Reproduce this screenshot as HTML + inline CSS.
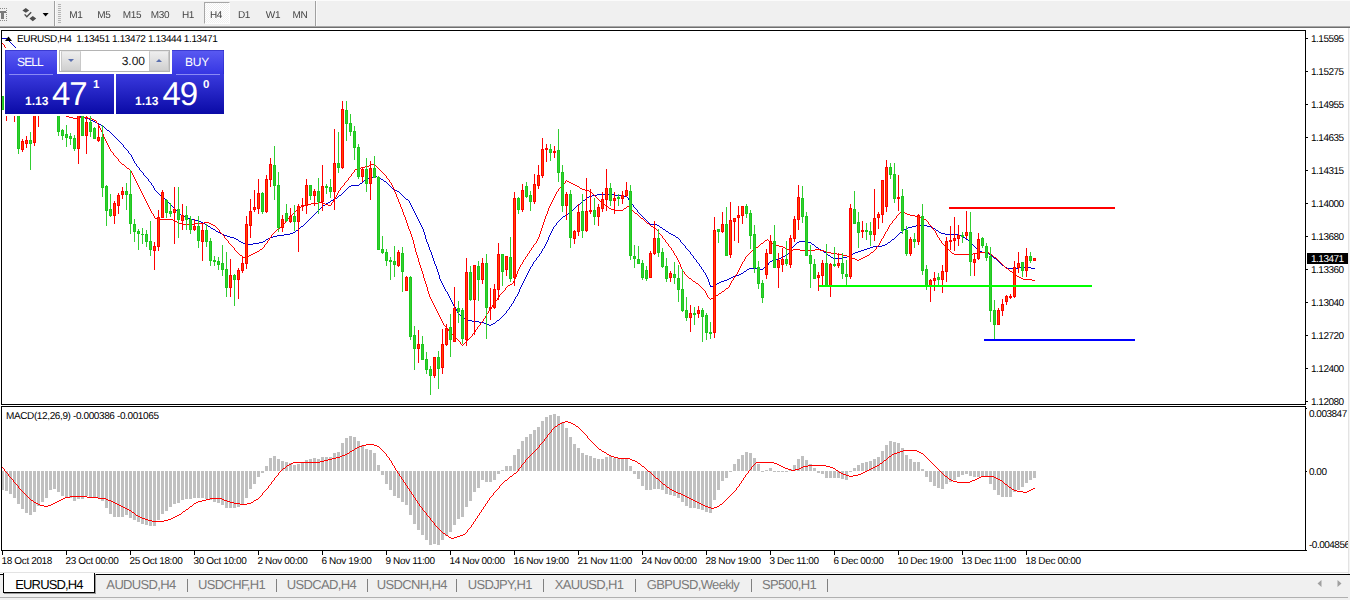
<!DOCTYPE html>
<html><head><meta charset="utf-8"><title>EURUSD,H4</title>
<style>
html,body{margin:0;padding:0}
body{width:1350px;height:600px;position:relative;overflow:hidden;background:#fff;font-family:"Liberation Sans",sans-serif;color:#000;text-rendering:geometricPrecision}
div,span,i{box-sizing:border-box}
.tb{position:absolute;left:0;top:0;width:1350px;height:28px;background:#f0f0f0;border-top:1px solid #fbfbfb;border-bottom:1px solid #6e6e6e}
.tb:after{content:"";position:absolute;left:0;bottom:0;width:1350px;height:1px;background:#a8a8a8}
.tbi{position:absolute;left:0;top:-1px}
.tf{will-change:transform;position:absolute;top:9px;width:30px;text-align:center;font-size:10px;line-height:12px;color:#444;letter-spacing:-0.3px}
.h4b{position:absolute;left:204px;top:1px;width:26px;height:22px;background:#f8f8f8 repeating-conic-gradient(#ffffff 0 25%,#f0f0f0 0 50%) 0 0/2px 2px;border:1px solid #a6a6a6;border-right-color:#fdfdfd;border-bottom-color:#fdfdfd}
.sep{position:absolute;top:0;width:1px;height:26px;background:#a0a0a0}
.sep.w{background:#fafafa}
.redge{position:absolute;left:1348px;top:28px;width:1px;height:546px;background:#e3e3e3;z-index:5}
.redge2{position:absolute;left:1349px;top:28px;width:1px;height:546px;background:#f4f4f4;z-index:5}
.chart{position:absolute;left:0;top:0}
.ax{position:absolute;font-size:10px;line-height:12px;letter-spacing:-0.5px;white-space:nowrap;color:#000}
.curb{position:absolute;left:1307px;top:253px;width:41px;height:11px;background:#000}
.ax.tm{letter-spacing:-0.36px}
.ax.hd{letter-spacing:-0.38px}
.pn{position:absolute;left:5px;top:50px;width:219px;height:64px}
.pnbg{position:absolute;left:4px;top:48px;width:222px;height:68px;background:#fff}
.sell,.buy{position:absolute;top:0;height:25px;width:52px;background:linear-gradient(#5a5af2,#3434e2);color:#fff;font-size:12px;line-height:24px;text-align:center;letter-spacing:-0.9px}
.sell{left:0;padding-right:2px;box-shadow:inset 1px 1px 0 rgba(20,20,170,0.45)}
.buy{left:167px;letter-spacing:-0.3px;padding-right:2px;box-shadow:inset 0 1px 0 rgba(20,20,170,0.45),inset -1px 0 0 rgba(20,20,170,0.3)}
.sl{position:absolute;top:24px;height:1px;background:#8a8af4;z-index:3}
.spin{position:absolute;left:54px;top:0;width:111px;height:22px;border:1px solid #b4b4b4;background:#fff}
.sb{position:absolute;left:1px;top:0;width:20px;height:20px;background:linear-gradient(#eeeeee,#d0d0d0);border:1px solid #c8c8c8;border-top-color:#e4e4e4}
.sb.r{left:auto;right:0}
.sv{position:absolute;right:24px;top:0;font-size:12px;line-height:20px;color:#111}
i.dn,i.up{position:absolute;left:6px;top:7px;width:0;height:0;border-left:3px solid transparent;border-right:3px solid transparent}
i.dn{border-top:3px solid #5a6fae}
i.up{border-bottom:3px solid #5a6fae}
.pr{position:absolute;top:24px;height:40px;background:linear-gradient(#3a3ade,#0a0aa6);color:#fff}
.pr span{position:absolute;white-space:nowrap}
.sm{font-size:12px;font-weight:bold;top:21px;line-height:12px;letter-spacing:0}
.bg{font-size:33px;top:2.5px;line-height:33px;letter-spacing:-1px}
.sp{font-size:11.5px;font-weight:bold;top:5.5px;line-height:11px}
.tabs{position:absolute;left:0;top:572px;width:1350px;height:28px;background:#f0f0f0;border-top:1px solid #e3e3e3}
.tabs:before{content:"";position:absolute;left:0;top:0;width:1350px;height:1px;background:#fff}
.tabs:after{content:"";position:absolute;left:0;top:1px;width:1350px;height:1px;background:#000}
.tab{position:absolute;top:2px;height:19px;font-size:13px;line-height:20px;text-align:center;color:#7a7a7a;letter-spacing:-0.65px;white-space:nowrap}
.tab.act{letter-spacing:-0.85px;left:3px;top:0;width:92px;height:20px;background:#fff;color:#000;border:1px solid #000;border-top:none;z-index:2;line-height:24px;box-shadow:1px 1px 0 #9a9a9a}
.tsep{position:absolute;top:6px;width:1px;height:13px;background:#808080}
.arr{position:absolute;left:1317px;top:7px}
.bl{position:absolute;left:0;top:24px;width:1348px;height:1px;background:#b0b0b0;z-index:3}
</style></head>
<body>
<div class="redge"></div><div class="redge2"></div>
<svg class="chart" width="1350" height="600" viewBox="0 0 1350 600" shape-rendering="crispEdges">
<g>
<path fill="#0000cd" d="M2 38h5v1h-5zM7 39h1v1h-1zM8 40h1v1h-1zM9 41h1v1h-1zM10 42h1v1h-1zM11 43h1v1h-1zM12 44h1v1h-1zM13 45h1v1h-1zM14 46h1v1h-1zM15 47h1v1h-1zM16 48h1v1h-1zM17 49h1v1h-1zM18 50h1v1h-1zM19 51h1v1h-1zM20 52h1v1h-1zM21 53h1v1h-1zM22 54h1v1h-1zM23 55h1v1h-1zM24 56h1v1h-1zM25 57h1v1h-1zM26 58h1v1h-1zM27 59h1v1h-1zM28 60h1v1h-1zM29 61h1v1h-1zM30 62h1v1h-1zM31 63h1v1h-1zM32 64h1v1h-1zM33 65h1v1h-1zM34 66h1v1h-1zM35 67h1v1h-1zM35 68h1v1h-1zM36 69h1v1h-1zM37 70h1v1h-1zM38 71h1v1h-1zM39 72h1v1h-1zM40 73h1v1h-1zM41 74h1v1h-1zM42 75h1v1h-1zM43 76h1v1h-1zM44 77h1v1h-1zM45 78h1v1h-1zM45 79h1v1h-1zM46 80h1v1h-1zM47 81h1v1h-1zM48 82h1v1h-1zM49 83h1v1h-1zM50 84h1v1h-1zM51 85h1v1h-1zM52 86h1v1h-1zM53 87h1v1h-1zM53 88h1v1h-1zM54 89h1v1h-1zM55 90h1v1h-1zM56 91h1v1h-1zM57 92h1v1h-1zM58 93h1v1h-1zM58 94h1v1h-1zM59 95h1v1h-1zM60 96h1v1h-1zM61 97h1v1h-1zM62 98h1v1h-1zM63 99h1v1h-1zM63 100h1v1h-1zM64 101h1v1h-1zM65 102h1v1h-1zM66 103h1v1h-1zM67 104h1v1h-1zM68 105h1v1h-1zM69 106h1v1h-1zM70 107h1v1h-1zM71 108h1v1h-1zM72 109h2v1h-2zM74 110h1v1h-1zM75 111h1v1h-1zM76 112h1v1h-1zM77 113h1v1h-1zM78 114h1v1h-1zM79 115h1v1h-1zM80 116h2v1h-2zM82 117h3v1h-3zM85 118h4v1h-4zM89 119h2v1h-2zM91 120h2v1h-2zM93 121h2v1h-2zM95 122h2v1h-2zM97 123h2v1h-2zM99 124h2v1h-2zM101 125h1v1h-1zM102 126h2v1h-2zM104 127h1v1h-1zM105 128h1v1h-1zM106 129h1v1h-1zM107 130h2v1h-2zM109 131h1v1h-1zM110 132h1v1h-1zM111 133h1v1h-1zM112 134h1v1h-1zM113 135h1v1h-1zM114 136h1v1h-1zM115 137h1v1h-1zM116 138h1v1h-1zM117 139h1v1h-1zM118 140h1v1h-1zM119 141h1v1h-1zM120 142h1v1h-1zM121 143h1v1h-1zM122 144h1v1h-1zM123 145h1v1h-1zM123 146h1v1h-1zM124 147h1v1h-1zM125 148h1v1h-1zM126 149h1v1h-1zM127 150h1v1h-1zM128 151h1v1h-1zM128 152h1v1h-1zM129 153h1v1h-1zM130 154h1v1h-1zM131 155h1v1h-1zM131 156h1v1h-1zM132 157h1v1h-1zM132 158h1v1h-1zM133 159h1v1h-1zM133 160h1v1h-1zM134 161h1v1h-1zM134 162h1v1h-1zM135 163h1v1h-1zM136 164h1v1h-1zM136 165h1v1h-1zM137 166h1v1h-1zM138 167h1v1h-1zM139 168h1v1h-1zM139 169h1v1h-1zM140 170h1v1h-1zM141 171h1v1h-1zM142 172h1v1h-1zM143 173h1v1h-1zM143 174h1v1h-1zM144 175h1v1h-1zM145 176h1v1h-1zM375 176h2v1h-2zM146 177h1v1h-1zM372 177h3v1h-3zM377 177h2v1h-2zM147 178h1v1h-1zM368 178h4v1h-4zM379 178h2v1h-2zM148 179h1v1h-1zM366 179h2v1h-2zM381 179h2v1h-2zM148 180h1v1h-1zM364 180h2v1h-2zM383 180h1v1h-1zM149 181h1v1h-1zM363 181h1v1h-1zM384 181h2v1h-2zM150 182h1v1h-1zM362 182h1v1h-1zM386 182h1v1h-1zM151 183h1v1h-1zM360 183h2v1h-2zM387 183h1v1h-1zM151 184h1v1h-1zM359 184h1v1h-1zM388 184h1v1h-1zM152 185h1v1h-1zM351 185h8v1h-8zM389 185h1v1h-1zM153 186h1v1h-1zM349 186h2v1h-2zM390 186h1v1h-1zM153 187h1v1h-1zM348 187h1v1h-1zM391 187h1v1h-1zM154 188h1v1h-1zM347 188h1v1h-1zM392 188h1v1h-1zM154 189h1v1h-1zM346 189h1v1h-1zM393 189h2v1h-2zM155 190h1v1h-1zM345 190h1v1h-1zM395 190h2v1h-2zM156 191h1v1h-1zM344 191h1v1h-1zM397 191h2v1h-2zM157 192h1v1h-1zM343 192h1v1h-1zM399 192h1v1h-1zM158 193h1v1h-1zM342 193h1v1h-1zM400 193h1v1h-1zM159 194h1v1h-1zM341 194h1v1h-1zM401 194h1v1h-1zM597 194h18v1h-18zM160 195h2v1h-2zM339 195h2v1h-2zM402 195h1v1h-1zM592 195h5v1h-5zM615 195h8v1h-8zM162 196h1v1h-1zM338 196h1v1h-1zM403 196h1v1h-1zM589 196h3v1h-3zM623 196h4v1h-4zM163 197h1v1h-1zM337 197h1v1h-1zM404 197h1v1h-1zM587 197h2v1h-2zM627 197h1v1h-1zM164 198h1v1h-1zM335 198h2v1h-2zM405 198h1v1h-1zM586 198h1v1h-1zM628 198h1v1h-1zM165 199h1v1h-1zM333 199h2v1h-2zM406 199h2v1h-2zM585 199h1v1h-1zM628 199h1v1h-1zM166 200h1v1h-1zM331 200h2v1h-2zM408 200h1v1h-1zM583 200h2v1h-2zM629 200h1v1h-1zM167 201h1v1h-1zM330 201h1v1h-1zM409 201h1v1h-1zM582 201h1v1h-1zM630 201h1v1h-1zM168 202h1v1h-1zM328 202h2v1h-2zM409 202h1v1h-1zM581 202h1v1h-1zM631 202h1v1h-1zM169 203h1v1h-1zM326 203h2v1h-2zM410 203h1v1h-1zM580 203h1v1h-1zM631 203h1v1h-1zM170 204h1v1h-1zM325 204h1v1h-1zM410 204h1v1h-1zM579 204h1v1h-1zM632 204h1v1h-1zM171 205h1v1h-1zM323 205h2v1h-2zM411 205h1v1h-1zM577 205h2v1h-2zM633 205h1v1h-1zM172 206h1v1h-1zM322 206h1v1h-1zM411 206h1v1h-1zM576 206h1v1h-1zM633 206h1v1h-1zM173 207h1v1h-1zM321 207h1v1h-1zM412 207h1v1h-1zM575 207h1v1h-1zM634 207h1v1h-1zM174 208h1v1h-1zM320 208h1v1h-1zM412 208h1v1h-1zM574 208h1v1h-1zM635 208h1v1h-1zM175 209h1v1h-1zM319 209h1v1h-1zM413 209h1v1h-1zM573 209h1v1h-1zM636 209h1v1h-1zM176 210h1v1h-1zM318 210h1v1h-1zM413 210h1v1h-1zM571 210h2v1h-2zM637 210h1v1h-1zM177 211h1v1h-1zM317 211h1v1h-1zM414 211h1v1h-1zM570 211h1v1h-1zM637 211h1v1h-1zM178 212h1v1h-1zM316 212h1v1h-1zM414 212h1v1h-1zM569 212h1v1h-1zM638 212h1v1h-1zM179 213h1v1h-1zM315 213h1v1h-1zM415 213h1v1h-1zM568 213h1v1h-1zM639 213h1v1h-1zM180 214h1v1h-1zM314 214h1v1h-1zM415 214h1v1h-1zM566 214h2v1h-2zM640 214h1v1h-1zM181 215h2v1h-2zM313 215h1v1h-1zM416 215h1v1h-1zM565 215h1v1h-1zM641 215h1v1h-1zM183 216h2v1h-2zM312 216h1v1h-1zM416 216h1v1h-1zM563 216h2v1h-2zM642 216h1v1h-1zM185 217h2v1h-2zM311 217h1v1h-1zM417 217h1v1h-1zM562 217h1v1h-1zM643 217h1v1h-1zM187 218h3v1h-3zM310 218h1v1h-1zM417 218h1v1h-1zM561 218h1v1h-1zM644 218h1v1h-1zM190 219h4v1h-4zM309 219h1v1h-1zM418 219h1v1h-1zM560 219h1v1h-1zM645 219h1v1h-1zM194 220h4v1h-4zM308 220h1v1h-1zM418 220h1v1h-1zM559 220h1v1h-1zM646 220h1v1h-1zM198 221h3v1h-3zM307 221h1v1h-1zM419 221h1v1h-1zM558 221h1v1h-1zM647 221h1v1h-1zM201 222h2v1h-2zM306 222h1v1h-1zM419 222h1v1h-1zM557 222h1v1h-1zM648 222h1v1h-1zM203 223h2v1h-2zM305 223h1v1h-1zM420 223h1v1h-1zM556 223h1v1h-1zM649 223h1v1h-1zM205 224h1v1h-1zM304 224h1v1h-1zM420 224h1v1h-1zM556 224h1v1h-1zM650 224h7v1h-7zM206 225h2v1h-2zM303 225h1v1h-1zM421 225h1v1h-1zM555 225h1v1h-1zM657 225h2v1h-2zM916 225h11v1h-11zM208 226h2v1h-2zM301 226h2v1h-2zM421 226h1v1h-1zM554 226h1v1h-1zM659 226h1v1h-1zM912 226h4v1h-4zM927 226h4v1h-4zM210 227h1v1h-1zM300 227h1v1h-1zM422 227h1v1h-1zM553 227h1v1h-1zM660 227h2v1h-2zM908 227h4v1h-4zM931 227h2v1h-2zM211 228h2v1h-2zM299 228h1v1h-1zM422 228h1v1h-1zM553 228h1v1h-1zM662 228h1v1h-1zM906 228h2v1h-2zM933 228h2v1h-2zM213 229h2v1h-2zM298 229h1v1h-1zM423 229h1v1h-1zM552 229h1v1h-1zM663 229h2v1h-2zM904 229h2v1h-2zM935 229h1v1h-1zM215 230h1v1h-1zM296 230h2v1h-2zM423 230h1v1h-1zM552 230h1v1h-1zM665 230h1v1h-1zM903 230h1v1h-1zM936 230h2v1h-2zM216 231h2v1h-2zM295 231h1v1h-1zM423 231h1v1h-1zM551 231h1v1h-1zM666 231h2v1h-2zM902 231h1v1h-1zM938 231h1v1h-1zM218 232h2v1h-2zM293 232h2v1h-2zM424 232h1v1h-1zM551 232h1v1h-1zM668 232h1v1h-1zM900 232h2v1h-2zM939 232h2v1h-2zM220 233h2v1h-2zM290 233h3v1h-3zM424 233h1v1h-1zM550 233h1v1h-1zM669 233h2v1h-2zM899 233h1v1h-1zM941 233h4v1h-4zM222 234h2v1h-2zM284 234h6v1h-6zM424 234h1v1h-1zM550 234h1v1h-1zM671 234h2v1h-2zM898 234h1v1h-1zM945 234h13v1h-13zM224 235h3v1h-3zM277 235h7v1h-7zM425 235h1v1h-1zM549 235h1v1h-1zM673 235h2v1h-2zM897 235h1v1h-1zM958 235h3v1h-3zM227 236h3v1h-3zM273 236h4v1h-4zM425 236h1v1h-1zM549 236h1v1h-1zM675 236h1v1h-1zM896 236h1v1h-1zM961 236h2v1h-2zM230 237h4v1h-4zM270 237h3v1h-3zM425 237h1v1h-1zM548 237h1v1h-1zM676 237h2v1h-2zM895 237h1v1h-1zM963 237h2v1h-2zM234 238h2v1h-2zM268 238h2v1h-2zM425 238h1v1h-1zM548 238h1v1h-1zM678 238h1v1h-1zM894 238h1v1h-1zM965 238h1v1h-1zM236 239h2v1h-2zM266 239h2v1h-2zM426 239h1v1h-1zM548 239h1v1h-1zM679 239h1v1h-1zM892 239h2v1h-2zM966 239h2v1h-2zM238 240h1v1h-1zM265 240h1v1h-1zM426 240h1v1h-1zM547 240h1v1h-1zM680 240h1v1h-1zM891 240h1v1h-1zM968 240h1v1h-1zM239 241h2v1h-2zM263 241h2v1h-2zM426 241h1v1h-1zM547 241h1v1h-1zM680 241h1v1h-1zM799 241h8v1h-8zM890 241h1v1h-1zM969 241h1v1h-1zM241 242h2v1h-2zM259 242h4v1h-4zM427 242h1v1h-1zM546 242h1v1h-1zM681 242h1v1h-1zM797 242h2v1h-2zM807 242h4v1h-4zM888 242h2v1h-2zM970 242h1v1h-1zM243 243h4v1h-4zM253 243h6v1h-6zM427 243h1v1h-1zM546 243h1v1h-1zM682 243h1v1h-1zM796 243h1v1h-1zM811 243h1v1h-1zM887 243h1v1h-1zM971 243h1v1h-1zM247 244h6v1h-6zM428 244h1v1h-1zM545 244h1v1h-1zM683 244h1v1h-1zM795 244h1v1h-1zM812 244h2v1h-2zM885 244h2v1h-2zM972 244h1v1h-1zM428 245h1v1h-1zM545 245h1v1h-1zM684 245h1v1h-1zM794 245h1v1h-1zM814 245h1v1h-1zM882 245h3v1h-3zM973 245h1v1h-1zM428 246h1v1h-1zM544 246h1v1h-1zM685 246h1v1h-1zM793 246h1v1h-1zM815 246h1v1h-1zM873 246h9v1h-9zM974 246h1v1h-1zM429 247h1v1h-1zM544 247h1v1h-1zM685 247h1v1h-1zM792 247h1v1h-1zM816 247h2v1h-2zM870 247h3v1h-3zM975 247h1v1h-1zM429 248h1v1h-1zM543 248h1v1h-1zM686 248h1v1h-1zM791 248h1v1h-1zM818 248h1v1h-1zM867 248h3v1h-3zM976 248h1v1h-1zM429 249h1v1h-1zM542 249h1v1h-1zM687 249h1v1h-1zM791 249h1v1h-1zM819 249h2v1h-2zM864 249h3v1h-3zM977 249h1v1h-1zM430 250h1v1h-1zM542 250h1v1h-1zM688 250h1v1h-1zM790 250h1v1h-1zM821 250h2v1h-2zM861 250h3v1h-3zM978 250h2v1h-2zM430 251h1v1h-1zM541 251h1v1h-1zM689 251h1v1h-1zM789 251h1v1h-1zM823 251h1v1h-1zM858 251h3v1h-3zM980 251h2v1h-2zM431 252h1v1h-1zM541 252h1v1h-1zM690 252h1v1h-1zM789 252h1v1h-1zM824 252h2v1h-2zM855 252h3v1h-3zM982 252h4v1h-4zM431 253h1v1h-1zM540 253h1v1h-1zM690 253h1v1h-1zM788 253h1v1h-1zM826 253h1v1h-1zM853 253h2v1h-2zM986 253h3v1h-3zM431 254h1v1h-1zM539 254h1v1h-1zM691 254h1v1h-1zM786 254h2v1h-2zM827 254h1v1h-1zM851 254h2v1h-2zM989 254h1v1h-1zM432 255h1v1h-1zM539 255h1v1h-1zM692 255h1v1h-1zM785 255h1v1h-1zM828 255h2v1h-2zM849 255h2v1h-2zM990 255h2v1h-2zM432 256h1v1h-1zM538 256h1v1h-1zM693 256h1v1h-1zM783 256h2v1h-2zM830 256h1v1h-1zM847 256h2v1h-2zM992 256h1v1h-1zM432 257h1v1h-1zM537 257h1v1h-1zM693 257h1v1h-1zM781 257h2v1h-2zM831 257h2v1h-2zM843 257h4v1h-4zM993 257h1v1h-1zM433 258h1v1h-1zM536 258h1v1h-1zM694 258h1v1h-1zM778 258h3v1h-3zM833 258h10v1h-10zM994 258h2v1h-2zM433 259h1v1h-1zM536 259h1v1h-1zM695 259h1v1h-1zM775 259h3v1h-3zM996 259h1v1h-1zM433 260h1v1h-1zM535 260h1v1h-1zM696 260h1v1h-1zM772 260h3v1h-3zM997 260h1v1h-1zM434 261h1v1h-1zM534 261h1v1h-1zM696 261h1v1h-1zM770 261h2v1h-2zM998 261h1v1h-1zM434 262h1v1h-1zM533 262h1v1h-1zM697 262h1v1h-1zM769 262h1v1h-1zM999 262h1v1h-1zM434 263h1v1h-1zM533 263h1v1h-1zM698 263h1v1h-1zM768 263h1v1h-1zM1000 263h1v1h-1zM435 264h1v1h-1zM532 264h1v1h-1zM699 264h1v1h-1zM768 264h1v1h-1zM1001 264h1v1h-1zM435 265h1v1h-1zM532 265h1v1h-1zM699 265h1v1h-1zM767 265h1v1h-1zM1002 265h2v1h-2zM436 266h1v1h-1zM531 266h1v1h-1zM700 266h1v1h-1zM766 266h1v1h-1zM1004 266h1v1h-1zM436 267h1v1h-1zM530 267h1v1h-1zM701 267h1v1h-1zM764 267h2v1h-2zM1005 267h2v1h-2zM1019 267h12v1h-12zM436 268h1v1h-1zM530 268h1v1h-1zM701 268h1v1h-1zM749 268h10v1h-10zM763 268h1v1h-1zM1007 268h12v1h-12zM1031 268h4v1h-4zM437 269h1v1h-1zM529 269h1v1h-1zM702 269h1v1h-1zM747 269h2v1h-2zM759 269h4v1h-4zM437 270h1v1h-1zM529 270h1v1h-1zM703 270h1v1h-1zM746 270h1v1h-1zM437 271h1v1h-1zM528 271h1v1h-1zM703 271h1v1h-1zM744 271h2v1h-2zM438 272h1v1h-1zM528 272h1v1h-1zM704 272h1v1h-1zM743 272h1v1h-1zM438 273h1v1h-1zM527 273h1v1h-1zM705 273h1v1h-1zM741 273h2v1h-2zM438 274h1v1h-1zM527 274h1v1h-1zM705 274h1v1h-1zM739 274h2v1h-2zM439 275h1v1h-1zM526 275h1v1h-1zM706 275h1v1h-1zM736 275h3v1h-3zM439 276h1v1h-1zM526 276h1v1h-1zM706 276h1v1h-1zM733 276h3v1h-3zM439 277h1v1h-1zM525 277h1v1h-1zM707 277h1v1h-1zM731 277h2v1h-2zM439 278h1v1h-1zM525 278h1v1h-1zM707 278h1v1h-1zM729 278h2v1h-2zM440 279h1v1h-1zM524 279h1v1h-1zM708 279h1v1h-1zM727 279h2v1h-2zM440 280h1v1h-1zM524 280h1v1h-1zM708 280h1v1h-1zM724 280h3v1h-3zM441 281h1v1h-1zM523 281h1v1h-1zM708 281h1v1h-1zM721 281h3v1h-3zM441 282h1v1h-1zM523 282h1v1h-1zM709 282h1v1h-1zM719 282h2v1h-2zM442 283h1v1h-1zM522 283h1v1h-1zM709 283h1v1h-1zM717 283h2v1h-2zM442 284h1v1h-1zM522 284h1v1h-1zM709 284h1v1h-1zM715 284h2v1h-2zM443 285h1v1h-1zM521 285h1v1h-1zM710 285h1v1h-1zM713 285h2v1h-2zM443 286h1v1h-1zM521 286h1v1h-1zM710 286h3v1h-3zM444 287h1v1h-1zM520 287h1v1h-1zM444 288h1v1h-1zM520 288h1v1h-1zM445 289h1v1h-1zM519 289h1v1h-1zM445 290h1v1h-1zM519 290h1v1h-1zM446 291h1v1h-1zM519 291h1v1h-1zM447 292h1v1h-1zM518 292h1v1h-1zM447 293h1v1h-1zM518 293h1v1h-1zM448 294h1v1h-1zM517 294h1v1h-1zM448 295h1v1h-1zM517 295h1v1h-1zM449 296h1v1h-1zM516 296h1v1h-1zM449 297h1v1h-1zM515 297h1v1h-1zM450 298h1v1h-1zM515 298h1v1h-1zM450 299h1v1h-1zM514 299h1v1h-1zM451 300h1v1h-1zM514 300h1v1h-1zM451 301h1v1h-1zM513 301h1v1h-1zM452 302h1v1h-1zM513 302h1v1h-1zM452 303h1v1h-1zM512 303h1v1h-1zM453 304h1v1h-1zM511 304h1v1h-1zM453 305h1v1h-1zM511 305h1v1h-1zM454 306h1v1h-1zM510 306h1v1h-1zM455 307h1v1h-1zM509 307h1v1h-1zM455 308h1v1h-1zM509 308h1v1h-1zM456 309h1v1h-1zM508 309h1v1h-1zM456 310h1v1h-1zM507 310h1v1h-1zM457 311h1v1h-1zM506 311h1v1h-1zM457 312h1v1h-1zM506 312h1v1h-1zM458 313h1v1h-1zM505 313h1v1h-1zM459 314h1v1h-1zM504 314h1v1h-1zM460 315h1v1h-1zM503 315h1v1h-1zM461 316h1v1h-1zM502 316h1v1h-1zM462 317h1v1h-1zM501 317h1v1h-1zM463 318h2v1h-2zM500 318h1v1h-1zM465 319h2v1h-2zM499 319h1v1h-1zM467 320h5v1h-5zM497 320h2v1h-2zM472 321h7v1h-7zM496 321h1v1h-1zM479 322h5v1h-5zM495 322h1v1h-1zM484 323h3v1h-3zM493 323h2v1h-2zM487 324h2v1h-2zM491 324h2v1h-2zM489 325h2v1h-2z"/>
<path fill="#ff0000" d="M2 43h1v1h-1zM3 44h1v1h-1zM4 45h1v1h-1zM4 46h1v1h-1zM5 47h1v1h-1zM6 48h1v1h-1zM7 49h1v1h-1zM8 50h1v1h-1zM9 51h1v1h-1zM10 52h1v1h-1zM11 53h1v1h-1zM12 54h1v1h-1zM13 55h1v1h-1zM14 56h1v1h-1zM15 57h1v1h-1zM16 58h1v1h-1zM17 59h1v1h-1zM18 60h1v1h-1zM19 61h1v1h-1zM20 62h1v1h-1zM21 63h1v1h-1zM22 64h1v1h-1zM22 65h1v1h-1zM23 66h1v1h-1zM24 67h1v1h-1zM25 68h1v1h-1zM25 69h1v1h-1zM26 70h1v1h-1zM27 71h1v1h-1zM28 72h1v1h-1zM28 73h1v1h-1zM29 74h1v1h-1zM30 75h1v1h-1zM31 76h1v1h-1zM32 77h1v1h-1zM32 78h1v1h-1zM33 79h1v1h-1zM34 80h1v1h-1zM35 81h1v1h-1zM35 82h1v1h-1zM36 83h1v1h-1zM37 84h1v1h-1zM38 85h1v1h-1zM38 86h1v1h-1zM39 87h1v1h-1zM40 88h1v1h-1zM41 89h1v1h-1zM42 90h1v1h-1zM43 91h1v1h-1zM43 92h1v1h-1zM44 93h1v1h-1zM45 94h1v1h-1zM46 95h1v1h-1zM47 96h1v1h-1zM48 97h1v1h-1zM48 98h1v1h-1zM49 99h1v1h-1zM50 100h1v1h-1zM51 101h1v1h-1zM52 102h1v1h-1zM53 103h1v1h-1zM53 104h1v1h-1zM54 105h1v1h-1zM55 106h1v1h-1zM56 107h1v1h-1zM57 108h1v1h-1zM58 109h1v1h-1zM59 110h1v1h-1zM60 111h2v1h-2zM62 112h1v1h-1zM63 113h1v1h-1zM64 114h1v1h-1zM65 115h1v1h-1zM66 116h3v1h-3zM81 116h3v1h-3zM69 117h4v1h-4zM77 117h4v1h-4zM84 117h4v1h-4zM73 118h4v1h-4zM88 118h4v1h-4zM92 119h2v1h-2zM94 120h2v1h-2zM96 121h1v1h-1zM96 122h1v1h-1zM97 123h1v1h-1zM98 124h1v1h-1zM98 125h1v1h-1zM99 126h1v1h-1zM99 127h1v1h-1zM100 128h1v1h-1zM100 129h1v1h-1zM101 130h1v1h-1zM101 131h1v1h-1zM102 132h1v1h-1zM102 133h1v1h-1zM103 134h1v1h-1zM103 135h1v1h-1zM103 136h1v1h-1zM104 137h1v1h-1zM104 138h1v1h-1zM105 139h1v1h-1zM105 140h1v1h-1zM106 141h1v1h-1zM106 142h1v1h-1zM107 143h1v1h-1zM107 144h1v1h-1zM108 145h1v1h-1zM108 146h1v1h-1zM109 147h1v1h-1zM109 148h1v1h-1zM110 149h1v1h-1zM110 150h1v1h-1zM111 151h1v1h-1zM112 152h1v1h-1zM113 153h1v1h-1zM113 154h1v1h-1zM114 155h1v1h-1zM115 156h1v1h-1zM116 157h1v1h-1zM117 158h1v1h-1zM118 159h1v1h-1zM118 160h1v1h-1zM119 161h1v1h-1zM120 162h1v1h-1zM121 163h1v1h-1zM122 164h2v1h-2zM371 164h4v1h-4zM124 165h1v1h-1zM369 165h2v1h-2zM375 165h1v1h-1zM125 166h1v1h-1zM365 166h4v1h-4zM376 166h1v1h-1zM126 167h1v1h-1zM361 167h4v1h-4zM377 167h1v1h-1zM127 168h2v1h-2zM357 168h4v1h-4zM378 168h1v1h-1zM129 169h1v1h-1zM355 169h2v1h-2zM379 169h1v1h-1zM130 170h1v1h-1zM354 170h1v1h-1zM380 170h1v1h-1zM131 171h1v1h-1zM354 171h1v1h-1zM381 171h1v1h-1zM131 172h1v1h-1zM353 172h1v1h-1zM382 172h1v1h-1zM132 173h1v1h-1zM352 173h1v1h-1zM383 173h1v1h-1zM132 174h1v1h-1zM351 174h1v1h-1zM384 174h1v1h-1zM133 175h1v1h-1zM351 175h1v1h-1zM385 175h1v1h-1zM133 176h1v1h-1zM350 176h1v1h-1zM386 176h1v1h-1zM134 177h1v1h-1zM349 177h1v1h-1zM386 177h1v1h-1zM134 178h1v1h-1zM348 178h1v1h-1zM387 178h1v1h-1zM135 179h1v1h-1zM348 179h1v1h-1zM388 179h1v1h-1zM135 180h1v1h-1zM347 180h1v1h-1zM389 180h1v1h-1zM566 180h1v1h-1zM136 181h1v1h-1zM346 181h1v1h-1zM389 181h1v1h-1zM565 181h1v1h-1zM567 181h2v1h-2zM136 182h1v1h-1zM345 182h1v1h-1zM390 182h1v1h-1zM565 182h1v1h-1zM569 182h2v1h-2zM137 183h1v1h-1zM344 183h1v1h-1zM391 183h1v1h-1zM564 183h1v1h-1zM571 183h2v1h-2zM137 184h1v1h-1zM344 184h1v1h-1zM391 184h1v1h-1zM563 184h1v1h-1zM573 184h2v1h-2zM138 185h1v1h-1zM343 185h1v1h-1zM392 185h1v1h-1zM562 185h1v1h-1zM575 185h2v1h-2zM138 186h1v1h-1zM342 186h1v1h-1zM392 186h1v1h-1zM561 186h1v1h-1zM577 186h2v1h-2zM139 187h1v1h-1zM341 187h1v1h-1zM393 187h1v1h-1zM560 187h1v1h-1zM579 187h1v1h-1zM139 188h1v1h-1zM340 188h1v1h-1zM393 188h1v1h-1zM559 188h1v1h-1zM580 188h2v1h-2zM140 189h1v1h-1zM340 189h1v1h-1zM394 189h1v1h-1zM558 189h1v1h-1zM582 189h3v1h-3zM140 190h1v1h-1zM339 190h1v1h-1zM394 190h1v1h-1zM558 190h1v1h-1zM585 190h4v1h-4zM141 191h1v1h-1zM338 191h1v1h-1zM394 191h1v1h-1zM557 191h1v1h-1zM589 191h1v1h-1zM141 192h1v1h-1zM338 192h1v1h-1zM395 192h1v1h-1zM556 192h1v1h-1zM590 192h2v1h-2zM142 193h1v1h-1zM337 193h1v1h-1zM395 193h1v1h-1zM556 193h1v1h-1zM592 193h1v1h-1zM142 194h1v1h-1zM337 194h1v1h-1zM396 194h1v1h-1zM555 194h1v1h-1zM593 194h1v1h-1zM143 195h1v1h-1zM336 195h1v1h-1zM396 195h1v1h-1zM555 195h1v1h-1zM594 195h1v1h-1zM143 196h1v1h-1zM336 196h1v1h-1zM396 196h1v1h-1zM554 196h1v1h-1zM595 196h1v1h-1zM144 197h1v1h-1zM335 197h1v1h-1zM397 197h1v1h-1zM554 197h1v1h-1zM596 197h1v1h-1zM144 198h1v1h-1zM335 198h1v1h-1zM397 198h1v1h-1zM553 198h1v1h-1zM597 198h1v1h-1zM145 199h1v1h-1zM334 199h1v1h-1zM398 199h1v1h-1zM553 199h1v1h-1zM598 199h1v1h-1zM145 200h1v1h-1zM333 200h1v1h-1zM398 200h1v1h-1zM552 200h1v1h-1zM599 200h1v1h-1zM146 201h1v1h-1zM333 201h1v1h-1zM398 201h1v1h-1zM552 201h1v1h-1zM600 201h1v1h-1zM146 202h1v1h-1zM319 202h4v1h-4zM332 202h1v1h-1zM399 202h1v1h-1zM551 202h1v1h-1zM601 202h2v1h-2zM147 203h1v1h-1zM311 203h8v1h-8zM323 203h2v1h-2zM331 203h1v1h-1zM399 203h1v1h-1zM551 203h1v1h-1zM603 203h1v1h-1zM147 204h1v1h-1zM305 204h6v1h-6zM325 204h3v1h-3zM331 204h1v1h-1zM400 204h1v1h-1zM550 204h1v1h-1zM604 204h1v1h-1zM148 205h1v1h-1zM303 205h2v1h-2zM328 205h3v1h-3zM400 205h1v1h-1zM550 205h1v1h-1zM605 205h1v1h-1zM148 206h1v1h-1zM301 206h2v1h-2zM400 206h1v1h-1zM549 206h1v1h-1zM606 206h2v1h-2zM627 206h2v1h-2zM149 207h1v1h-1zM300 207h1v1h-1zM401 207h1v1h-1zM549 207h1v1h-1zM608 207h1v1h-1zM626 207h1v1h-1zM629 207h1v1h-1zM149 208h1v1h-1zM298 208h2v1h-2zM401 208h1v1h-1zM548 208h1v1h-1zM609 208h2v1h-2zM624 208h2v1h-2zM630 208h1v1h-1zM150 209h1v1h-1zM297 209h1v1h-1zM402 209h1v1h-1zM548 209h1v1h-1zM611 209h3v1h-3zM623 209h1v1h-1zM631 209h1v1h-1zM150 210h1v1h-1zM296 210h1v1h-1zM402 210h1v1h-1zM548 210h1v1h-1zM614 210h9v1h-9zM632 210h1v1h-1zM151 211h1v1h-1zM295 211h1v1h-1zM402 211h1v1h-1zM547 211h1v1h-1zM633 211h1v1h-1zM901 211h2v1h-2zM151 212h1v1h-1zM294 212h1v1h-1zM403 212h1v1h-1zM547 212h1v1h-1zM634 212h1v1h-1zM900 212h1v1h-1zM903 212h2v1h-2zM152 213h1v1h-1zM293 213h1v1h-1zM403 213h1v1h-1zM547 213h1v1h-1zM635 213h2v1h-2zM899 213h1v1h-1zM905 213h2v1h-2zM153 214h1v1h-1zM292 214h1v1h-1zM403 214h1v1h-1zM546 214h1v1h-1zM637 214h1v1h-1zM898 214h1v1h-1zM907 214h3v1h-3zM153 215h1v1h-1zM291 215h1v1h-1zM404 215h1v1h-1zM546 215h1v1h-1zM638 215h1v1h-1zM897 215h1v1h-1zM910 215h5v1h-5zM154 216h1v1h-1zM290 216h1v1h-1zM404 216h1v1h-1zM545 216h1v1h-1zM639 216h1v1h-1zM896 216h1v1h-1zM915 216h5v1h-5zM154 217h1v1h-1zM289 217h1v1h-1zM405 217h1v1h-1zM545 217h1v1h-1zM640 217h1v1h-1zM896 217h1v1h-1zM920 217h3v1h-3zM155 218h3v1h-3zM288 218h1v1h-1zM405 218h1v1h-1zM545 218h1v1h-1zM641 218h2v1h-2zM895 218h1v1h-1zM923 218h1v1h-1zM158 219h15v1h-15zM287 219h1v1h-1zM405 219h1v1h-1zM544 219h1v1h-1zM643 219h1v1h-1zM894 219h1v1h-1zM924 219h2v1h-2zM173 220h2v1h-2zM286 220h1v1h-1zM406 220h1v1h-1zM544 220h1v1h-1zM644 220h1v1h-1zM893 220h1v1h-1zM926 220h1v1h-1zM175 221h2v1h-2zM285 221h1v1h-1zM406 221h1v1h-1zM544 221h1v1h-1zM645 221h1v1h-1zM892 221h1v1h-1zM927 221h1v1h-1zM177 222h2v1h-2zM204 222h5v1h-5zM285 222h1v1h-1zM406 222h1v1h-1zM543 222h1v1h-1zM646 222h1v1h-1zM892 222h1v1h-1zM928 222h1v1h-1zM179 223h4v1h-4zM195 223h9v1h-9zM209 223h2v1h-2zM284 223h1v1h-1zM407 223h1v1h-1zM543 223h1v1h-1zM647 223h2v1h-2zM891 223h1v1h-1zM928 223h1v1h-1zM183 224h12v1h-12zM211 224h2v1h-2zM283 224h1v1h-1zM407 224h1v1h-1zM543 224h1v1h-1zM649 224h1v1h-1zM890 224h1v1h-1zM929 224h1v1h-1zM213 225h2v1h-2zM282 225h1v1h-1zM407 225h1v1h-1zM542 225h1v1h-1zM650 225h1v1h-1zM889 225h1v1h-1zM930 225h1v1h-1zM215 226h1v1h-1zM281 226h1v1h-1zM408 226h1v1h-1zM542 226h1v1h-1zM651 226h2v1h-2zM889 226h1v1h-1zM931 226h1v1h-1zM216 227h1v1h-1zM280 227h1v1h-1zM408 227h1v1h-1zM542 227h1v1h-1zM653 227h1v1h-1zM888 227h1v1h-1zM932 227h1v1h-1zM217 228h1v1h-1zM278 228h2v1h-2zM408 228h1v1h-1zM541 228h1v1h-1zM654 228h2v1h-2zM888 228h1v1h-1zM932 228h1v1h-1zM218 229h1v1h-1zM277 229h1v1h-1zM409 229h1v1h-1zM541 229h1v1h-1zM656 229h1v1h-1zM887 229h1v1h-1zM933 229h1v1h-1zM219 230h1v1h-1zM276 230h1v1h-1zM409 230h1v1h-1zM541 230h1v1h-1zM657 230h1v1h-1zM887 230h1v1h-1zM934 230h1v1h-1zM219 231h1v1h-1zM275 231h1v1h-1zM410 231h1v1h-1zM540 231h1v1h-1zM658 231h1v1h-1zM886 231h1v1h-1zM935 231h1v1h-1zM220 232h1v1h-1zM274 232h1v1h-1zM410 232h1v1h-1zM540 232h1v1h-1zM658 232h1v1h-1zM885 232h1v1h-1zM935 232h1v1h-1zM221 233h1v1h-1zM273 233h1v1h-1zM410 233h1v1h-1zM540 233h1v1h-1zM659 233h1v1h-1zM885 233h1v1h-1zM936 233h1v1h-1zM222 234h1v1h-1zM272 234h1v1h-1zM411 234h1v1h-1zM539 234h1v1h-1zM660 234h1v1h-1zM884 234h1v1h-1zM936 234h1v1h-1zM223 235h1v1h-1zM271 235h1v1h-1zM411 235h1v1h-1zM539 235h1v1h-1zM661 235h1v1h-1zM884 235h1v1h-1zM937 235h1v1h-1zM224 236h1v1h-1zM271 236h1v1h-1zM411 236h1v1h-1zM539 236h1v1h-1zM662 236h1v1h-1zM883 236h1v1h-1zM937 236h1v1h-1zM224 237h1v1h-1zM270 237h1v1h-1zM412 237h1v1h-1zM538 237h1v1h-1zM662 237h1v1h-1zM883 237h1v1h-1zM938 237h1v1h-1zM225 238h1v1h-1zM269 238h1v1h-1zM412 238h1v1h-1zM538 238h1v1h-1zM663 238h1v1h-1zM882 238h1v1h-1zM939 238h1v1h-1zM226 239h1v1h-1zM269 239h1v1h-1zM412 239h1v1h-1zM537 239h1v1h-1zM664 239h1v1h-1zM767 239h1v1h-1zM881 239h1v1h-1zM939 239h1v1h-1zM227 240h1v1h-1zM268 240h1v1h-1zM413 240h1v1h-1zM537 240h1v1h-1zM665 240h1v1h-1zM765 240h2v1h-2zM768 240h1v1h-1zM881 240h1v1h-1zM940 240h1v1h-1zM228 241h1v1h-1zM267 241h1v1h-1zM413 241h1v1h-1zM536 241h1v1h-1zM665 241h1v1h-1zM764 241h1v1h-1zM769 241h2v1h-2zM880 241h1v1h-1zM941 241h1v1h-1zM228 242h1v1h-1zM267 242h1v1h-1zM413 242h1v1h-1zM536 242h1v1h-1zM666 242h1v1h-1zM763 242h1v1h-1zM771 242h1v1h-1zM880 242h1v1h-1zM941 242h1v1h-1zM229 243h1v1h-1zM266 243h1v1h-1zM413 243h1v1h-1zM535 243h1v1h-1zM667 243h1v1h-1zM761 243h2v1h-2zM772 243h1v1h-1zM879 243h1v1h-1zM942 243h1v1h-1zM230 244h1v1h-1zM265 244h1v1h-1zM414 244h1v1h-1zM534 244h1v1h-1zM668 244h1v1h-1zM760 244h1v1h-1zM773 244h2v1h-2zM879 244h1v1h-1zM943 244h1v1h-1zM231 245h1v1h-1zM264 245h1v1h-1zM414 245h1v1h-1zM533 245h1v1h-1zM668 245h1v1h-1zM759 245h1v1h-1zM775 245h4v1h-4zM878 245h1v1h-1zM944 245h1v1h-1zM232 246h1v1h-1zM264 246h1v1h-1zM414 246h1v1h-1zM533 246h1v1h-1zM669 246h1v1h-1zM758 246h1v1h-1zM779 246h4v1h-4zM877 246h1v1h-1zM945 246h1v1h-1zM233 247h1v1h-1zM263 247h1v1h-1zM414 247h1v1h-1zM532 247h1v1h-1zM670 247h1v1h-1zM756 247h2v1h-2zM783 247h2v1h-2zM876 247h1v1h-1zM946 247h1v1h-1zM234 248h1v1h-1zM262 248h1v1h-1zM415 248h1v1h-1zM531 248h1v1h-1zM671 248h1v1h-1zM755 248h1v1h-1zM785 248h2v1h-2zM876 248h1v1h-1zM947 248h1v1h-1zM234 249h1v1h-1zM260 249h2v1h-2zM415 249h1v1h-1zM531 249h1v1h-1zM671 249h1v1h-1zM753 249h2v1h-2zM787 249h2v1h-2zM793 249h7v1h-7zM815 249h5v1h-5zM875 249h1v1h-1zM948 249h1v1h-1zM235 250h1v1h-1zM259 250h1v1h-1zM415 250h1v1h-1zM530 250h1v1h-1zM672 250h1v1h-1zM752 250h1v1h-1zM789 250h4v1h-4zM800 250h15v1h-15zM820 250h4v1h-4zM874 250h1v1h-1zM949 250h1v1h-1zM236 251h1v1h-1zM257 251h2v1h-2zM415 251h1v1h-1zM529 251h1v1h-1zM673 251h1v1h-1zM751 251h1v1h-1zM824 251h3v1h-3zM873 251h1v1h-1zM950 251h1v1h-1zM237 252h1v1h-1zM255 252h2v1h-2zM416 252h1v1h-1zM529 252h1v1h-1zM673 252h1v1h-1zM750 252h1v1h-1zM827 252h4v1h-4zM871 252h2v1h-2zM951 252h1v1h-1zM979 252h10v1h-10zM238 253h1v1h-1zM253 253h2v1h-2zM416 253h1v1h-1zM528 253h1v1h-1zM674 253h1v1h-1zM749 253h1v1h-1zM831 253h6v1h-6zM870 253h1v1h-1zM952 253h2v1h-2zM973 253h6v1h-6zM989 253h1v1h-1zM239 254h1v1h-1zM251 254h2v1h-2zM416 254h1v1h-1zM527 254h1v1h-1zM674 254h1v1h-1zM748 254h1v1h-1zM837 254h6v1h-6zM869 254h1v1h-1zM954 254h19v1h-19zM990 254h2v1h-2zM240 255h2v1h-2zM249 255h2v1h-2zM417 255h1v1h-1zM527 255h1v1h-1zM675 255h1v1h-1zM747 255h1v1h-1zM843 255h4v1h-4zM867 255h2v1h-2zM992 255h1v1h-1zM242 256h1v1h-1zM246 256h3v1h-3zM417 256h1v1h-1zM526 256h1v1h-1zM676 256h1v1h-1zM746 256h1v1h-1zM847 256h2v1h-2zM865 256h2v1h-2zM993 256h1v1h-1zM243 257h3v1h-3zM417 257h1v1h-1zM525 257h1v1h-1zM676 257h1v1h-1zM745 257h1v1h-1zM849 257h3v1h-3zM863 257h2v1h-2zM994 257h2v1h-2zM418 258h1v1h-1zM525 258h1v1h-1zM677 258h1v1h-1zM745 258h1v1h-1zM852 258h3v1h-3zM861 258h2v1h-2zM996 258h1v1h-1zM418 259h1v1h-1zM524 259h1v1h-1zM677 259h1v1h-1zM744 259h1v1h-1zM855 259h2v1h-2zM859 259h2v1h-2zM997 259h1v1h-1zM418 260h1v1h-1zM523 260h1v1h-1zM678 260h1v1h-1zM744 260h1v1h-1zM857 260h2v1h-2zM998 260h1v1h-1zM418 261h1v1h-1zM523 261h1v1h-1zM678 261h1v1h-1zM743 261h1v1h-1zM999 261h1v1h-1zM419 262h1v1h-1zM522 262h1v1h-1zM679 262h1v1h-1zM742 262h1v1h-1zM1000 262h1v1h-1zM419 263h1v1h-1zM522 263h1v1h-1zM679 263h1v1h-1zM742 263h1v1h-1zM1001 263h1v1h-1zM419 264h1v1h-1zM521 264h1v1h-1zM680 264h1v1h-1zM741 264h1v1h-1zM1002 264h1v1h-1zM420 265h1v1h-1zM520 265h1v1h-1zM680 265h1v1h-1zM741 265h1v1h-1zM1003 265h1v1h-1zM420 266h1v1h-1zM520 266h1v1h-1zM680 266h1v1h-1zM740 266h1v1h-1zM1004 266h1v1h-1zM420 267h1v1h-1zM519 267h1v1h-1zM681 267h1v1h-1zM740 267h1v1h-1zM1005 267h1v1h-1zM421 268h1v1h-1zM519 268h1v1h-1zM681 268h1v1h-1zM739 268h1v1h-1zM1006 268h2v1h-2zM421 269h1v1h-1zM518 269h1v1h-1zM682 269h1v1h-1zM739 269h1v1h-1zM1008 269h1v1h-1zM421 270h1v1h-1zM518 270h1v1h-1zM682 270h1v1h-1zM738 270h1v1h-1zM1009 270h1v1h-1zM422 271h1v1h-1zM517 271h1v1h-1zM683 271h1v1h-1zM738 271h1v1h-1zM1010 271h2v1h-2zM422 272h1v1h-1zM517 272h1v1h-1zM684 272h1v1h-1zM737 272h1v1h-1zM1012 272h1v1h-1zM422 273h1v1h-1zM517 273h1v1h-1zM684 273h1v1h-1zM737 273h1v1h-1zM1013 273h1v1h-1zM423 274h1v1h-1zM516 274h1v1h-1zM685 274h1v1h-1zM736 274h1v1h-1zM1014 274h2v1h-2zM423 275h1v1h-1zM516 275h1v1h-1zM686 275h1v1h-1zM735 275h1v1h-1zM1016 275h1v1h-1zM423 276h1v1h-1zM516 276h1v1h-1zM687 276h1v1h-1zM735 276h1v1h-1zM1017 276h2v1h-2zM423 277h1v1h-1zM515 277h1v1h-1zM688 277h1v1h-1zM734 277h1v1h-1zM1019 277h2v1h-2zM424 278h1v1h-1zM515 278h1v1h-1zM689 278h2v1h-2zM733 278h1v1h-1zM1021 278h2v1h-2zM424 279h1v1h-1zM514 279h1v1h-1zM691 279h1v1h-1zM733 279h1v1h-1zM1023 279h9v1h-9zM424 280h1v1h-1zM514 280h1v1h-1zM692 280h1v1h-1zM732 280h1v1h-1zM1032 280h3v1h-3zM425 281h1v1h-1zM513 281h1v1h-1zM693 281h2v1h-2zM731 281h1v1h-1zM425 282h1v1h-1zM513 282h1v1h-1zM695 282h1v1h-1zM731 282h1v1h-1zM425 283h1v1h-1zM512 283h1v1h-1zM696 283h2v1h-2zM730 283h1v1h-1zM426 284h1v1h-1zM510 284h2v1h-2zM698 284h1v1h-1zM730 284h1v1h-1zM426 285h1v1h-1zM508 285h2v1h-2zM699 285h1v1h-1zM729 285h1v1h-1zM426 286h1v1h-1zM507 286h1v1h-1zM700 286h1v1h-1zM729 286h1v1h-1zM427 287h1v1h-1zM506 287h1v1h-1zM701 287h1v1h-1zM728 287h1v1h-1zM427 288h1v1h-1zM505 288h1v1h-1zM702 288h1v1h-1zM726 288h2v1h-2zM427 289h1v1h-1zM505 289h1v1h-1zM703 289h1v1h-1zM725 289h1v1h-1zM427 290h1v1h-1zM504 290h1v1h-1zM704 290h1v1h-1zM724 290h1v1h-1zM428 291h1v1h-1zM503 291h1v1h-1zM705 291h1v1h-1zM722 291h2v1h-2zM428 292h1v1h-1zM502 292h1v1h-1zM705 292h1v1h-1zM721 292h1v1h-1zM428 293h1v1h-1zM501 293h1v1h-1zM706 293h1v1h-1zM719 293h2v1h-2zM429 294h1v1h-1zM500 294h1v1h-1zM706 294h1v1h-1zM718 294h1v1h-1zM429 295h1v1h-1zM499 295h1v1h-1zM707 295h1v1h-1zM716 295h2v1h-2zM429 296h1v1h-1zM499 296h1v1h-1zM707 296h1v1h-1zM715 296h1v1h-1zM430 297h1v1h-1zM498 297h1v1h-1zM708 297h1v1h-1zM713 297h2v1h-2zM430 298h1v1h-1zM497 298h1v1h-1zM709 298h1v1h-1zM711 298h2v1h-2zM431 299h1v1h-1zM497 299h1v1h-1zM710 299h1v1h-1zM431 300h1v1h-1zM496 300h1v1h-1zM432 301h1v1h-1zM495 301h1v1h-1zM432 302h1v1h-1zM495 302h1v1h-1zM433 303h1v1h-1zM494 303h1v1h-1zM433 304h1v1h-1zM493 304h1v1h-1zM434 305h1v1h-1zM492 305h1v1h-1zM434 306h1v1h-1zM492 306h1v1h-1zM435 307h1v1h-1zM491 307h1v1h-1zM435 308h1v1h-1zM490 308h1v1h-1zM436 309h1v1h-1zM489 309h1v1h-1zM436 310h1v1h-1zM489 310h1v1h-1zM437 311h1v1h-1zM488 311h1v1h-1zM437 312h1v1h-1zM488 312h1v1h-1zM438 313h1v1h-1zM487 313h1v1h-1zM438 314h1v1h-1zM486 314h1v1h-1zM439 315h1v1h-1zM486 315h1v1h-1zM439 316h1v1h-1zM485 316h1v1h-1zM440 317h1v1h-1zM485 317h1v1h-1zM440 318h1v1h-1zM484 318h1v1h-1zM441 319h1v1h-1zM483 319h1v1h-1zM441 320h1v1h-1zM483 320h1v1h-1zM442 321h1v1h-1zM482 321h1v1h-1zM442 322h1v1h-1zM481 322h1v1h-1zM443 323h1v1h-1zM480 323h1v1h-1zM443 324h1v1h-1zM480 324h1v1h-1zM444 325h1v1h-1zM479 325h1v1h-1zM445 326h1v1h-1zM478 326h1v1h-1zM446 327h1v1h-1zM477 327h1v1h-1zM447 328h1v1h-1zM477 328h1v1h-1zM448 329h1v1h-1zM476 329h1v1h-1zM448 330h1v1h-1zM475 330h1v1h-1zM449 331h1v1h-1zM475 331h1v1h-1zM450 332h1v1h-1zM474 332h1v1h-1zM451 333h1v1h-1zM473 333h1v1h-1zM452 334h1v1h-1zM472 334h1v1h-1zM453 335h1v1h-1zM472 335h1v1h-1zM454 336h1v1h-1zM471 336h1v1h-1zM455 337h1v1h-1zM470 337h1v1h-1zM456 338h1v1h-1zM469 338h1v1h-1zM457 339h1v1h-1zM468 339h1v1h-1zM458 340h1v1h-1zM467 340h1v1h-1zM459 341h1v1h-1zM466 341h1v1h-1zM460 342h1v1h-1zM465 342h1v1h-1zM460 343h1v1h-1zM464 343h1v1h-1zM461 344h1v1h-1zM463 344h1v1h-1zM462 345h1v1h-1z"/>
<path fill="#32cd32" d="M10 90h1v20h-1zM18 92h1v62h-1zM30 132h1v38h-1zM42 84h1v22h-1zM50 80h1v22h-1zM54 90h1v22h-1zM58 100h1v36h-1zM62 129h1v11h-1zM66 125h1v22h-1zM70 133h1v12h-1zM74 135h1v16h-1zM82 104h1v32h-1zM90 108h1v29h-1zM94 127h1v12h-1zM102 125h1v72h-1zM106 185h1v41h-1zM110 194h1v23h-1zM126 183h1v27h-1zM130 170h1v64h-1zM134 219h1v23h-1zM138 229h1v21h-1zM142 228h1v16h-1zM146 230h1v17h-1zM150 221h1v35h-1zM166 199h1v19h-1zM170 203h1v14h-1zM178 187h1v51h-1zM186 206h1v24h-1zM190 216h1v18h-1zM198 216h1v32h-1zM206 224h1v23h-1zM210 238h1v28h-1zM214 256h1v10h-1zM218 257h1v13h-1zM222 245h1v31h-1zM226 252h1v45h-1zM234 274h1v32h-1zM262 192h1v22h-1zM274 146h1v54h-1zM278 172h1v60h-1zM286 204h1v18h-1zM294 205h1v26h-1zM310 185h1v15h-1zM318 178h1v36h-1zM326 184h1v10h-1zM330 179h1v19h-1zM338 132h1v41h-1zM346 101h1v40h-1zM350 114h1v22h-1zM354 126h1v34h-1zM358 144h1v35h-1zM366 158h1v34h-1zM374 156h1v22h-1zM378 176h1v74h-1zM382 236h1v18h-1zM386 249h1v17h-1zM390 257h1v23h-1zM394 246h1v31h-1zM402 247h1v45h-1zM410 276h1v64h-1zM414 326h1v44h-1zM422 336h1v24h-1zM426 352h1v22h-1zM430 366h1v29h-1zM438 351h1v38h-1zM450 314h1v43h-1zM458 301h1v22h-1zM462 308h1v36h-1zM470 266h1v35h-1zM478 261h1v40h-1zM486 254h1v85h-1zM502 254h1v32h-1zM510 237h1v45h-1zM518 197h1v17h-1zM526 182h1v16h-1zM530 191h1v20h-1zM550 144h1v17h-1zM558 129h1v53h-1zM562 165h1v47h-1zM570 190h1v58h-1zM582 194h1v44h-1zM594 198h1v27h-1zM610 183h1v23h-1zM618 194h1v12h-1zM630 185h1v75h-1zM634 245h1v23h-1zM638 246h1v18h-1zM642 260h1v20h-1zM646 266h1v15h-1zM658 229h1v28h-1zM662 248h1v20h-1zM666 258h1v24h-1zM674 262h1v22h-1zM678 265h1v37h-1zM682 269h1v43h-1zM686 297h1v24h-1zM694 307h1v18h-1zM702 308h1v34h-1zM706 313h1v27h-1zM710 322h1v17h-1zM718 229h1v14h-1zM726 207h1v49h-1zM746 204h1v14h-1zM750 210h1v39h-1zM754 225h1v48h-1zM758 261h1v28h-1zM762 280h1v23h-1zM774 225h1v43h-1zM786 241h1v25h-1zM802 186h1v37h-1zM806 212h1v44h-1zM810 245h1v43h-1zM814 259h1v20h-1zM826 244h1v42h-1zM834 247h1v20h-1zM842 253h1v26h-1zM846 260h1v26h-1zM854 191h1v33h-1zM858 212h1v36h-1zM866 223h1v17h-1zM870 222h1v24h-1zM890 163h1v16h-1zM894 163h1v40h-1zM902 189h1v45h-1zM906 226h1v30h-1zM914 233h1v15h-1zM922 204h1v71h-1zM926 265h1v25h-1zM938 273h1v13h-1zM962 232h1v11h-1zM970 212h1v64h-1zM982 237h1v11h-1zM986 243h1v18h-1zM990 247h1v75h-1zM994 300h1v39h-1zM1022 262h1v15h-1zM1030 252h1v11h-1z"/>
<path fill="#1cc81c" d="M1 96h3v14h-3zM9 94h3v12h-3zM17 96h3v53h-3zM29 140h3v4h-3zM41 88h3v12h-3zM49 84h3v12h-3zM53 94h3v14h-3zM57 104h3v28h-3zM61 130h3v6h-3zM65 134h3v4h-3zM69 136h3v3h-3zM73 138h3v11h-3zM81 108h3v28h-3zM89 122h3v10h-3zM93 128h3v11h-3zM101 137h3v51h-3zM105 186h3v25h-3zM109 209h3v7h-3zM125 191h3v4h-3zM129 194h3v30h-3zM133 224h3v8h-3zM137 231h3v3h-3zM141 234h3v1h-3zM145 234h3v8h-3zM149 241h3v9h-3zM165 200h3v13h-3zM169 211h3v3h-3zM177 209h3v11h-3zM185 215h3v5h-3zM189 219h3v11h-3zM197 226h3v15h-3zM205 230h3v12h-3zM209 241h3v20h-3zM213 260h3v2h-3zM217 261h3v4h-3zM221 263h3v7h-3zM225 269h3v19h-3zM233 275h3v5h-3zM261 193h3v19h-3zM273 165h3v21h-3zM277 185h3v43h-3zM285 213h3v8h-3zM293 216h3v6h-3zM309 185h3v11h-3zM317 191h3v11h-3zM325 186h3v2h-3zM329 187h3v5h-3zM337 163h3v5h-3zM345 110h3v14h-3zM349 123h3v9h-3zM353 131h3v17h-3zM357 147h3v30h-3zM365 169h3v15h-3zM373 168h3v10h-3zM377 177h3v73h-3zM381 249h3v4h-3zM385 252h3v9h-3zM389 260h3v2h-3zM393 261h3v4h-3zM401 253h3v19h-3zM409 277h3v60h-3zM413 335h3v14h-3zM421 344h3v16h-3zM425 359h3v11h-3zM429 369h3v7h-3zM437 357h3v12h-3zM449 327h3v13h-3zM457 308h3v4h-3zM461 310h3v29h-3zM469 272h3v28h-3zM477 266h3v14h-3zM485 263h3v45h-3zM501 254h3v18h-3zM509 257h3v22h-3zM517 198h3v12h-3zM525 186h3v11h-3zM529 195h3v7h-3zM549 149h3v4h-3zM557 150h3v23h-3zM561 172h3v34h-3zM569 194h3v44h-3zM581 211h3v20h-3zM593 210h3v7h-3zM609 188h3v13h-3zM617 197h3v2h-3zM629 191h3v65h-3zM633 256h3v3h-3zM637 259h3v5h-3zM641 263h3v15h-3zM645 270h3v9h-3zM657 238h3v15h-3zM661 252h3v15h-3zM665 266h3v13h-3zM673 274h3v4h-3zM677 278h3v12h-3zM681 289h3v22h-3zM685 310h3v8h-3zM693 313h3v2h-3zM701 310h3v7h-3zM705 315h3v18h-3zM709 332h3v2h-3zM717 229h3v3h-3zM725 224h3v32h-3zM745 206h3v8h-3zM749 213h3v23h-3zM753 234h3v34h-3zM757 267h3v17h-3zM761 283h3v15h-3zM773 241h3v27h-3zM785 259h3v5h-3zM801 198h3v19h-3zM805 216h3v40h-3zM809 255h3v9h-3zM813 264h3v15h-3zM825 263h3v23h-3zM833 264h3v2h-3zM841 263h3v11h-3zM845 274h3v3h-3zM853 209h3v15h-3zM857 222h3v11h-3zM865 230h3v2h-3zM869 231h3v4h-3zM889 167h3v8h-3zM893 174h3v25h-3zM901 196h3v35h-3zM905 230h3v24h-3zM913 239h3v3h-3zM921 216h3v55h-3zM925 269h3v17h-3zM937 277h3v3h-3zM961 235h3v2h-3zM969 232h3v30h-3zM981 238h3v8h-3zM985 246h3v12h-3zM989 256h3v55h-3zM993 310h3v15h-3zM1021 262h3v9h-3zM1029 256h3v5h-3z"/>
<path fill="#32cd32" d="M2 97h1v12h-1zM10 95h1v10h-1zM18 97h1v51h-1zM30 141h1v2h-1zM42 89h1v10h-1zM50 85h1v10h-1zM54 95h1v12h-1zM58 105h1v26h-1zM62 131h1v4h-1zM66 135h1v2h-1zM70 137h1v1h-1zM74 139h1v9h-1zM82 109h1v26h-1zM90 123h1v8h-1zM94 129h1v9h-1zM102 138h1v49h-1zM106 187h1v23h-1zM110 210h1v5h-1zM126 192h1v2h-1zM130 195h1v28h-1zM134 225h1v6h-1zM138 232h1v1h-1zM146 235h1v6h-1zM150 242h1v7h-1zM166 201h1v11h-1zM170 212h1v1h-1zM178 210h1v9h-1zM186 216h1v3h-1zM190 220h1v9h-1zM198 227h1v13h-1zM206 231h1v10h-1zM210 242h1v18h-1zM218 262h1v2h-1zM222 264h1v5h-1zM226 270h1v17h-1zM234 276h1v3h-1zM262 194h1v17h-1zM274 166h1v19h-1zM278 186h1v41h-1zM286 214h1v6h-1zM294 217h1v4h-1zM310 186h1v9h-1zM318 192h1v9h-1zM330 188h1v3h-1zM338 164h1v3h-1zM346 111h1v12h-1zM350 124h1v7h-1zM354 132h1v15h-1zM358 148h1v28h-1zM366 170h1v13h-1zM374 169h1v8h-1zM378 178h1v71h-1zM382 250h1v2h-1zM386 253h1v7h-1zM394 262h1v2h-1zM402 254h1v17h-1zM410 278h1v58h-1zM414 336h1v12h-1zM422 345h1v14h-1zM426 360h1v9h-1zM430 370h1v5h-1zM438 358h1v10h-1zM450 328h1v11h-1zM458 309h1v2h-1zM462 311h1v27h-1zM470 273h1v26h-1zM478 267h1v12h-1zM486 264h1v43h-1zM502 255h1v16h-1zM510 258h1v20h-1zM518 199h1v10h-1zM526 187h1v9h-1zM530 196h1v5h-1zM550 150h1v2h-1zM558 151h1v21h-1zM562 173h1v32h-1zM570 195h1v42h-1zM582 212h1v18h-1zM594 211h1v5h-1zM610 189h1v11h-1zM630 192h1v63h-1zM634 257h1v1h-1zM638 260h1v3h-1zM642 264h1v13h-1zM646 271h1v7h-1zM658 239h1v13h-1zM662 253h1v13h-1zM666 267h1v11h-1zM674 275h1v2h-1zM678 279h1v10h-1zM682 290h1v20h-1zM686 311h1v6h-1zM702 311h1v5h-1zM706 316h1v16h-1zM718 230h1v1h-1zM726 225h1v30h-1zM746 207h1v6h-1zM750 214h1v21h-1zM754 235h1v32h-1zM758 268h1v15h-1zM762 284h1v13h-1zM774 242h1v25h-1zM786 260h1v3h-1zM802 199h1v17h-1zM806 217h1v38h-1zM810 256h1v7h-1zM814 265h1v13h-1zM826 264h1v21h-1zM842 264h1v9h-1zM846 275h1v1h-1zM854 210h1v13h-1zM858 223h1v9h-1zM870 232h1v2h-1zM890 168h1v6h-1zM894 175h1v23h-1zM902 197h1v33h-1zM906 231h1v22h-1zM914 240h1v1h-1zM922 217h1v53h-1zM926 270h1v15h-1zM938 278h1v1h-1zM970 233h1v28h-1zM982 239h1v6h-1zM986 247h1v10h-1zM990 257h1v53h-1zM994 311h1v13h-1zM1022 263h1v7h-1zM1030 257h1v3h-1z"/>
<path fill="#ff0000" d="M6 92h1v29h-1zM14 88h1v34h-1zM22 139h1v13h-1zM26 136h1v12h-1zM34 100h1v46h-1zM38 88h1v39h-1zM46 80h1v24h-1zM78 105h1v59h-1zM86 110h1v44h-1zM98 124h1v18h-1zM114 201h1v23h-1zM118 193h1v21h-1zM122 187h1v12h-1zM154 242h1v28h-1zM158 210h1v41h-1zM162 190h1v28h-1zM174 187h1v57h-1zM182 204h1v26h-1zM194 219h1v12h-1zM202 223h1v38h-1zM230 259h1v38h-1zM238 268h1v31h-1zM242 257h1v16h-1zM246 216h1v53h-1zM250 199h1v39h-1zM254 190h1v22h-1zM258 179h1v35h-1zM266 175h1v38h-1zM270 158h1v29h-1zM282 215h1v17h-1zM290 208h1v15h-1zM298 204h1v48h-1zM302 198h1v13h-1zM306 179h1v35h-1zM314 189h1v17h-1zM322 165h1v46h-1zM334 129h1v81h-1zM342 101h1v68h-1zM362 167h1v15h-1zM370 161h1v39h-1zM398 250h1v17h-1zM406 276h1v15h-1zM418 330h1v33h-1zM434 357h1v21h-1zM442 329h1v45h-1zM446 324h1v22h-1zM454 287h1v55h-1zM466 258h1v88h-1zM474 265h1v70h-1zM482 258h1v26h-1zM490 288h1v32h-1zM494 284h1v25h-1zM498 243h1v57h-1zM506 256h1v20h-1zM514 192h1v94h-1zM522 184h1v28h-1zM534 174h1v30h-1zM538 165h1v24h-1zM542 138h1v40h-1zM546 144h1v18h-1zM554 146h1v12h-1zM566 192h1v28h-1zM574 230h1v14h-1zM578 204h1v32h-1zM586 178h1v54h-1zM590 189h1v25h-1zM598 204h1v22h-1zM602 192h1v20h-1zM606 169h1v42h-1zM614 192h1v22h-1zM622 191h1v13h-1zM626 182h1v15h-1zM650 251h1v27h-1zM654 221h1v34h-1zM670 271h1v11h-1zM690 305h1v27h-1zM698 306h1v12h-1zM714 217h1v121h-1zM722 212h1v21h-1zM730 202h1v56h-1zM734 218h1v23h-1zM738 206h1v37h-1zM742 206h1v18h-1zM766 249h1v30h-1zM770 235h1v19h-1zM778 253h1v35h-1zM782 248h1v24h-1zM790 235h1v33h-1zM794 216h1v26h-1zM798 185h1v45h-1zM818 272h1v19h-1zM822 260h1v26h-1zM830 263h1v34h-1zM838 253h1v15h-1zM850 204h1v75h-1zM862 221h1v17h-1zM874 189h1v52h-1zM878 212h1v17h-1zM882 180h1v43h-1zM886 160h1v52h-1zM898 175h1v36h-1zM910 237h1v19h-1zM918 214h1v31h-1zM930 279h1v23h-1zM934 272h1v19h-1zM942 265h1v28h-1zM946 237h1v45h-1zM950 226h1v24h-1zM954 217h1v34h-1zM958 225h1v21h-1zM966 211h1v28h-1zM974 253h1v23h-1zM978 233h1v27h-1zM998 308h1v17h-1zM1002 299h1v17h-1zM1006 295h1v10h-1zM1010 294h1v5h-1zM1014 261h1v37h-1zM1018 252h1v21h-1zM1026 248h1v29h-1z"/>
<path fill="#ff0000" d="M5 98h3v14h-3zM13 92h3v16h-3zM21 141h3v9h-3zM25 140h3v4h-3zM33 104h3v39h-3zM37 92h3v18h-3zM45 86h3v14h-3zM77 110h3v39h-3zM85 122h3v14h-3zM97 137h3v4h-3zM113 203h3v13h-3zM117 195h3v11h-3zM121 191h3v4h-3zM153 246h3v5h-3zM157 217h3v30h-3zM161 192h3v26h-3zM173 209h3v4h-3zM181 215h3v6h-3zM193 226h3v4h-3zM201 230h3v12h-3zM229 275h3v13h-3zM237 270h3v10h-3zM241 263h3v8h-3zM245 224h3v40h-3zM249 211h3v15h-3zM253 207h3v3h-3zM257 193h3v16h-3zM265 179h3v33h-3zM269 164h3v16h-3zM281 219h3v9h-3zM289 216h3v6h-3zM297 206h3v16h-3zM301 205h3v2h-3zM305 185h3v21h-3zM313 191h3v5h-3zM321 186h3v16h-3zM333 163h3v29h-3zM341 109h3v59h-3zM361 169h3v8h-3zM369 168h3v16h-3zM397 252h3v14h-3zM405 277h3v14h-3zM417 344h3v5h-3zM433 357h3v19h-3zM441 344h3v24h-3zM445 328h3v17h-3zM453 308h3v34h-3zM465 272h3v68h-3zM473 265h3v35h-3zM481 263h3v17h-3zM489 307h3v2h-3zM493 289h3v19h-3zM497 254h3v36h-3zM505 256h3v14h-3zM513 198h3v80h-3zM521 190h3v20h-3zM533 184h3v18h-3zM537 175h3v11h-3zM541 149h3v27h-3zM545 148h3v2h-3zM553 151h3v2h-3zM565 194h3v12h-3zM573 231h3v8h-3zM577 212h3v20h-3zM585 211h3v20h-3zM589 210h3v2h-3zM597 207h3v10h-3zM601 199h3v10h-3zM605 188h3v12h-3zM613 198h3v3h-3zM621 195h3v4h-3zM625 190h3v6h-3zM649 253h3v25h-3zM653 238h3v16h-3zM669 273h3v5h-3zM689 313h3v5h-3zM697 310h3v4h-3zM713 230h3v103h-3zM721 224h3v8h-3zM729 220h3v35h-3zM733 218h3v4h-3zM737 215h3v3h-3zM741 206h3v10h-3zM765 253h3v22h-3zM769 241h3v13h-3zM777 260h3v8h-3zM781 259h3v6h-3zM789 238h3v27h-3zM793 219h3v20h-3zM797 197h3v23h-3zM817 275h3v3h-3zM821 263h3v13h-3zM829 264h3v22h-3zM837 263h3v3h-3zM849 208h3v69h-3zM861 230h3v2h-3zM873 218h3v17h-3zM877 214h3v4h-3zM881 180h3v35h-3zM885 167h3v40h-3zM897 197h3v2h-3zM909 239h3v15h-3zM917 215h3v27h-3zM929 280h3v6h-3zM933 278h3v3h-3zM941 271h3v9h-3zM945 241h3v31h-3zM949 240h3v2h-3zM953 238h3v3h-3zM957 235h3v4h-3zM965 232h3v4h-3zM973 259h3v4h-3zM977 239h3v20h-3zM997 310h3v15h-3zM1001 304h3v7h-3zM1005 296h3v6h-3zM1009 296h3v2h-3zM1013 267h3v30h-3zM1017 263h3v5h-3zM1025 256h3v15h-3zM1033 258h3v3h-3z"/>
<path fill="#ff4500" d="M6 99h1v12h-1zM14 93h1v14h-1zM22 142h1v7h-1zM26 141h1v2h-1zM34 105h1v37h-1zM38 93h1v16h-1zM46 87h1v12h-1zM78 111h1v37h-1zM86 123h1v12h-1zM98 138h1v2h-1zM114 204h1v11h-1zM118 196h1v9h-1zM122 192h1v2h-1zM154 247h1v3h-1zM158 218h1v28h-1zM162 193h1v24h-1zM174 210h1v2h-1zM182 216h1v4h-1zM194 227h1v2h-1zM202 231h1v10h-1zM230 276h1v11h-1zM238 271h1v8h-1zM242 264h1v6h-1zM246 225h1v38h-1zM250 212h1v13h-1zM254 208h1v1h-1zM258 194h1v14h-1zM266 180h1v31h-1zM270 165h1v14h-1zM282 220h1v7h-1zM290 217h1v4h-1zM298 207h1v14h-1zM306 186h1v19h-1zM314 192h1v3h-1zM322 187h1v14h-1zM334 164h1v27h-1zM342 110h1v57h-1zM362 170h1v6h-1zM370 169h1v14h-1zM398 253h1v12h-1zM406 278h1v12h-1zM418 345h1v3h-1zM434 358h1v17h-1zM442 345h1v22h-1zM446 329h1v15h-1zM454 309h1v32h-1zM466 273h1v66h-1zM474 266h1v33h-1zM482 264h1v15h-1zM494 290h1v17h-1zM498 255h1v34h-1zM506 257h1v12h-1zM514 199h1v78h-1zM522 191h1v18h-1zM534 185h1v16h-1zM538 176h1v9h-1zM542 150h1v25h-1zM566 195h1v10h-1zM574 232h1v6h-1zM578 213h1v18h-1zM586 212h1v18h-1zM598 208h1v8h-1zM602 200h1v8h-1zM606 189h1v10h-1zM614 199h1v1h-1zM622 196h1v2h-1zM626 191h1v4h-1zM650 254h1v23h-1zM654 239h1v14h-1zM670 274h1v3h-1zM690 314h1v3h-1zM698 311h1v2h-1zM714 231h1v101h-1zM722 225h1v6h-1zM730 221h1v33h-1zM734 219h1v2h-1zM738 216h1v1h-1zM742 207h1v8h-1zM766 254h1v20h-1zM770 242h1v11h-1zM778 261h1v6h-1zM782 260h1v4h-1zM790 239h1v25h-1zM794 220h1v18h-1zM798 198h1v21h-1zM818 276h1v1h-1zM822 264h1v11h-1zM830 265h1v20h-1zM838 264h1v1h-1zM850 209h1v67h-1zM874 219h1v15h-1zM878 215h1v2h-1zM882 181h1v33h-1zM886 168h1v38h-1zM910 240h1v13h-1zM918 216h1v25h-1zM930 281h1v4h-1zM934 279h1v1h-1zM942 272h1v7h-1zM946 242h1v29h-1zM954 239h1v1h-1zM958 236h1v2h-1zM966 233h1v2h-1zM974 260h1v2h-1zM978 240h1v18h-1zM998 311h1v13h-1zM1002 305h1v5h-1zM1006 297h1v4h-1zM1014 268h1v28h-1zM1018 264h1v3h-1zM1026 257h1v13h-1zM1034 259h1v1h-1z"/>
<rect x="949" y="207" width="166" height="2" fill="#ff0000"/>
<rect x="819" y="285" width="273" height="2" fill="#00ff00"/>
<rect x="984" y="339" width="151" height="2" fill="#0000ff"/>
</g>
<path fill="#c0c0c0" d="M1 471h3v19h-3zM5 471h3v20h-3zM9 471h3v23h-3zM13 471h3v27h-3zM17 471h3v33h-3zM21 471h3v38h-3zM25 471h3v42h-3zM29 471h3v44h-3zM33 471h3v41h-3zM37 471h3v35h-3zM41 471h3v31h-3zM45 471h3v27h-3zM49 471h3v19h-3zM53 471h3v18h-3zM57 471h3v21h-3zM61 471h3v25h-3zM65 471h3v26h-3zM69 471h3v27h-3zM73 471h3v30h-3zM77 471h3v28h-3zM81 471h3v28h-3zM85 471h3v25h-3zM89 471h3v26h-3zM93 471h3v26h-3zM97 471h3v27h-3zM101 471h3v30h-3zM105 471h3v37h-3zM109 471h3v43h-3zM113 471h3v46h-3zM117 471h3v46h-3zM121 471h3v46h-3zM125 471h3v44h-3zM129 471h3v47h-3zM133 471h3v49h-3zM137 471h3v51h-3zM141 471h3v53h-3zM145 471h3v54h-3zM149 471h3v55h-3zM153 471h3v55h-3zM157 471h3v49h-3zM161 471h3v43h-3zM165 471h3v40h-3zM169 471h3v36h-3zM173 471h3v33h-3zM177 471h3v32h-3zM181 471h3v29h-3zM185 471h3v28h-3zM189 471h3v28h-3zM193 471h3v27h-3zM197 471h3v27h-3zM201 471h3v27h-3zM205 471h3v28h-3zM209 471h3v29h-3zM213 471h3v31h-3zM217 471h3v32h-3zM221 471h3v34h-3zM225 471h3v37h-3zM229 471h3v37h-3zM233 471h3v37h-3zM237 471h3v36h-3zM241 471h3v33h-3zM245 471h3v27h-3zM249 471h3v18h-3zM253 471h3v13h-3zM257 471h3v6h-3zM261 471h3v2h-3zM265 466h3v5h-3zM269 458h3v13h-3zM273 456h3v15h-3zM277 459h3v12h-3zM281 461h3v10h-3zM285 462h3v9h-3zM289 463h3v8h-3zM293 465h3v6h-3zM297 464h3v7h-3zM301 463h3v8h-3zM305 460h3v11h-3zM309 459h3v12h-3zM313 458h3v13h-3zM317 459h3v12h-3zM321 457h3v14h-3zM325 457h3v14h-3zM329 457h3v14h-3zM333 453h3v18h-3zM337 452h3v19h-3zM341 443h3v28h-3zM345 438h3v33h-3zM349 436h3v35h-3zM353 437h3v34h-3zM357 441h3v30h-3zM361 445h3v26h-3zM365 449h3v22h-3zM369 450h3v21h-3zM373 453h3v18h-3zM377 465h3v6h-3zM381 471h3v4h-3zM385 471h3v13h-3zM389 471h3v19h-3zM393 471h3v25h-3zM397 471h3v27h-3zM401 471h3v31h-3zM405 471h3v34h-3zM409 471h3v44h-3zM413 471h3v53h-3zM417 471h3v59h-3zM421 471h3v64h-3zM425 471h3v69h-3zM429 471h3v74h-3zM433 471h3v73h-3zM437 471h3v74h-3zM441 471h3v69h-3zM445 471h3v65h-3zM449 471h3v61h-3zM453 471h3v54h-3zM457 471h3v48h-3zM461 471h3v46h-3zM465 471h3v36h-3zM469 471h3v30h-3zM473 471h3v21h-3zM477 471h3v17h-3zM481 471h3v9h-3zM485 471h3v11h-3zM489 471h3v11h-3zM493 471h3v9h-3zM497 471h3v3h-3zM501 470h3v1h-3zM505 466h3v5h-3zM509 466h3v5h-3zM513 455h3v16h-3zM517 449h3v22h-3zM521 441h3v30h-3zM525 437h3v34h-3zM529 434h3v37h-3zM533 430h3v41h-3zM537 427h3v44h-3zM541 421h3v50h-3zM545 417h3v54h-3zM549 415h3v56h-3zM553 414h3v57h-3zM557 416h3v55h-3zM561 422h3v49h-3zM565 428h3v43h-3zM569 437h3v34h-3zM573 444h3v27h-3zM577 448h3v23h-3zM581 453h3v18h-3zM585 455h3v16h-3zM589 456h3v15h-3zM593 458h3v13h-3zM597 459h3v12h-3zM601 459h3v12h-3zM605 457h3v14h-3zM609 456h3v15h-3zM613 458h3v13h-3zM617 458h3v13h-3zM621 458h3v13h-3zM625 459h3v12h-3zM629 466h3v5h-3zM633 471h3v3h-3zM637 471h3v8h-3zM641 471h3v15h-3zM645 471h3v19h-3zM649 471h3v19h-3zM653 471h3v18h-3zM657 471h3v18h-3zM661 471h3v19h-3zM665 471h3v23h-3zM669 471h3v24h-3zM673 471h3v25h-3zM677 471h3v27h-3zM681 471h3v31h-3zM685 471h3v35h-3zM689 471h3v37h-3zM693 471h3v37h-3zM697 471h3v38h-3zM701 471h3v39h-3zM705 471h3v41h-3zM709 471h3v42h-3zM713 471h3v29h-3zM717 471h3v19h-3zM721 471h3v10h-3zM725 471h3v7h-3zM729 471h3v1h-3zM733 464h3v7h-3zM737 459h3v12h-3zM741 455h3v16h-3zM745 452h3v19h-3zM749 453h3v18h-3zM753 458h3v13h-3zM757 464h3v7h-3zM761 471h3v1h-3zM765 470h3v1h-3zM769 468h3v3h-3zM773 471h3v1h-3zM777 471h3v1h-3zM781 471h3v1h-3zM785 471h3v1h-3zM789 469h3v2h-3zM793 465h3v6h-3zM797 459h3v12h-3zM801 456h3v15h-3zM805 460h3v11h-3zM809 464h3v7h-3zM813 468h3v3h-3zM817 471h3v2h-3zM821 471h3v3h-3zM825 471h3v7h-3zM829 471h3v7h-3zM833 471h3v7h-3zM837 471h3v7h-3zM841 471h3v8h-3zM845 471h3v9h-3zM849 471h3v1h-3zM853 468h3v3h-3zM857 465h3v6h-3zM861 463h3v8h-3zM865 462h3v9h-3zM869 461h3v10h-3zM873 459h3v12h-3zM877 457h3v14h-3zM881 451h3v20h-3zM885 445h3v26h-3zM889 441h3v30h-3zM893 442h3v29h-3zM897 443h3v28h-3zM901 448h3v23h-3zM905 455h3v16h-3zM909 459h3v12h-3zM913 462h3v9h-3zM917 462h3v9h-3zM921 469h3v2h-3zM925 471h3v6h-3zM929 471h3v11h-3zM933 471h3v15h-3zM937 471h3v17h-3zM941 471h3v18h-3zM945 471h3v13h-3zM949 471h3v11h-3zM953 471h3v9h-3zM957 471h3v6h-3zM961 471h3v4h-3zM965 471h3v3h-3zM969 471h3v5h-3zM973 471h3v6h-3zM977 471h3v6h-3zM981 471h3v5h-3zM985 471h3v6h-3zM989 471h3v13h-3zM993 471h3v19h-3zM997 471h3v24h-3zM1001 471h3v26h-3zM1005 471h3v26h-3zM1009 471h3v26h-3zM1013 471h3v21h-3zM1017 471h3v19h-3zM1021 471h3v16h-3zM1025 471h3v12h-3zM1029 471h3v9h-3zM1033 471h3v7h-3z"/>
<path fill="#ff0000" d="M565 421h3v1h-3zM562 422h3v1h-3zM568 422h3v1h-3zM560 423h2v1h-2zM571 423h2v1h-2zM558 424h2v1h-2zM573 424h2v1h-2zM557 425h1v1h-1zM575 425h1v1h-1zM555 426h2v1h-2zM576 426h2v1h-2zM554 427h1v1h-1zM578 427h1v1h-1zM553 428h1v1h-1zM579 428h1v1h-1zM552 429h1v1h-1zM580 429h1v1h-1zM551 430h1v1h-1zM581 430h1v1h-1zM551 431h1v1h-1zM582 431h1v1h-1zM550 432h1v1h-1zM583 432h1v1h-1zM549 433h1v1h-1zM584 433h1v1h-1zM548 434h1v1h-1zM585 434h1v1h-1zM547 435h1v1h-1zM586 435h1v1h-1zM547 436h1v1h-1zM587 436h1v1h-1zM546 437h1v1h-1zM587 437h1v1h-1zM545 438h1v1h-1zM588 438h1v1h-1zM544 439h1v1h-1zM589 439h1v1h-1zM544 440h1v1h-1zM590 440h1v1h-1zM543 441h1v1h-1zM591 441h1v1h-1zM542 442h1v1h-1zM592 442h1v1h-1zM541 443h1v1h-1zM593 443h1v1h-1zM366 444h8v1h-8zM540 444h1v1h-1zM594 444h1v1h-1zM362 445h4v1h-4zM374 445h3v1h-3zM539 445h1v1h-1zM595 445h1v1h-1zM359 446h3v1h-3zM377 446h2v1h-2zM539 446h1v1h-1zM596 446h1v1h-1zM357 447h2v1h-2zM379 447h1v1h-1zM538 447h1v1h-1zM597 447h1v1h-1zM355 448h2v1h-2zM380 448h1v1h-1zM537 448h1v1h-1zM598 448h1v1h-1zM354 449h1v1h-1zM381 449h1v1h-1zM536 449h1v1h-1zM599 449h2v1h-2zM352 450h2v1h-2zM382 450h1v1h-1zM535 450h1v1h-1zM601 450h1v1h-1zM903 450h14v1h-14zM350 451h2v1h-2zM383 451h1v1h-1zM534 451h1v1h-1zM602 451h2v1h-2zM900 451h3v1h-3zM917 451h2v1h-2zM349 452h1v1h-1zM384 452h1v1h-1zM533 452h1v1h-1zM604 452h2v1h-2zM897 452h3v1h-3zM919 452h2v1h-2zM347 453h2v1h-2zM385 453h1v1h-1zM532 453h1v1h-1zM606 453h1v1h-1zM894 453h3v1h-3zM921 453h2v1h-2zM345 454h2v1h-2zM386 454h1v1h-1zM531 454h1v1h-1zM607 454h2v1h-2zM892 454h2v1h-2zM923 454h1v1h-1zM342 455h3v1h-3zM386 455h1v1h-1zM530 455h1v1h-1zM609 455h2v1h-2zM891 455h1v1h-1zM924 455h1v1h-1zM340 456h2v1h-2zM387 456h1v1h-1zM529 456h1v1h-1zM611 456h3v1h-3zM889 456h2v1h-2zM925 456h1v1h-1zM336 457h4v1h-4zM388 457h1v1h-1zM528 457h1v1h-1zM614 457h4v1h-4zM888 457h1v1h-1zM926 457h1v1h-1zM332 458h4v1h-4zM389 458h1v1h-1zM527 458h1v1h-1zM618 458h12v1h-12zM887 458h1v1h-1zM927 458h1v1h-1zM328 459h4v1h-4zM389 459h1v1h-1zM526 459h1v1h-1zM630 459h2v1h-2zM886 459h1v1h-1zM928 459h1v1h-1zM324 460h4v1h-4zM390 460h1v1h-1zM525 460h1v1h-1zM632 460h3v1h-3zM884 460h2v1h-2zM929 460h1v1h-1zM320 461h4v1h-4zM391 461h1v1h-1zM525 461h1v1h-1zM635 461h2v1h-2zM883 461h1v1h-1zM930 461h1v1h-1zM293 462h27v1h-27zM391 462h1v1h-1zM524 462h1v1h-1zM637 462h1v1h-1zM756 462h18v1h-18zM882 462h1v1h-1zM931 462h1v1h-1zM291 463h2v1h-2zM392 463h1v1h-1zM523 463h1v1h-1zM638 463h2v1h-2zM755 463h1v1h-1zM774 463h3v1h-3zM880 463h2v1h-2zM932 463h1v1h-1zM289 464h2v1h-2zM392 464h1v1h-1zM522 464h1v1h-1zM640 464h1v1h-1zM754 464h1v1h-1zM777 464h2v1h-2zM879 464h1v1h-1zM933 464h1v1h-1zM287 465h2v1h-2zM393 465h1v1h-1zM521 465h1v1h-1zM641 465h1v1h-1zM753 465h1v1h-1zM779 465h2v1h-2zM808 465h18v1h-18zM877 465h2v1h-2zM934 465h1v1h-1zM286 466h1v1h-1zM394 466h1v1h-1zM521 466h1v1h-1zM642 466h2v1h-2zM752 466h1v1h-1zM781 466h2v1h-2zM803 466h5v1h-5zM826 466h4v1h-4zM875 466h2v1h-2zM935 466h1v1h-1zM2 467h1v1h-1zM285 467h1v1h-1zM394 467h1v1h-1zM520 467h1v1h-1zM644 467h1v1h-1zM751 467h1v1h-1zM783 467h2v1h-2zM801 467h2v1h-2zM830 467h3v1h-3zM873 467h2v1h-2zM936 467h1v1h-1zM3 468h1v1h-1zM283 468h2v1h-2zM395 468h1v1h-1zM519 468h1v1h-1zM645 468h1v1h-1zM751 468h1v1h-1zM785 468h3v1h-3zM799 468h2v1h-2zM833 468h2v1h-2zM871 468h2v1h-2zM937 468h1v1h-1zM4 469h1v1h-1zM282 469h1v1h-1zM395 469h1v1h-1zM518 469h1v1h-1zM646 469h1v1h-1zM750 469h1v1h-1zM788 469h3v1h-3zM795 469h4v1h-4zM835 469h1v1h-1zM869 469h2v1h-2zM938 469h1v1h-1zM4 470h1v1h-1zM281 470h1v1h-1zM396 470h1v1h-1zM518 470h1v1h-1zM647 470h1v1h-1zM749 470h1v1h-1zM791 470h4v1h-4zM836 470h2v1h-2zM867 470h2v1h-2zM939 470h1v1h-1zM5 471h1v1h-1zM280 471h1v1h-1zM397 471h1v1h-1zM517 471h1v1h-1zM648 471h2v1h-2zM748 471h1v1h-1zM838 471h1v1h-1zM865 471h2v1h-2zM940 471h1v1h-1zM6 472h1v1h-1zM279 472h1v1h-1zM397 472h1v1h-1zM516 472h1v1h-1zM650 472h1v1h-1zM748 472h1v1h-1zM839 472h2v1h-2zM863 472h2v1h-2zM941 472h1v1h-1zM7 473h1v1h-1zM278 473h1v1h-1zM398 473h1v1h-1zM514 473h2v1h-2zM651 473h1v1h-1zM747 473h1v1h-1zM841 473h2v1h-2zM861 473h2v1h-2zM942 473h1v1h-1zM8 474h1v1h-1zM278 474h1v1h-1zM399 474h1v1h-1zM513 474h1v1h-1zM652 474h1v1h-1zM746 474h1v1h-1zM843 474h3v1h-3zM858 474h3v1h-3zM943 474h1v1h-1zM8 475h1v1h-1zM277 475h1v1h-1zM399 475h1v1h-1zM512 475h1v1h-1zM653 475h1v1h-1zM745 475h1v1h-1zM846 475h3v1h-3zM853 475h5v1h-5zM944 475h1v1h-1zM9 476h1v1h-1zM276 476h1v1h-1zM400 476h1v1h-1zM510 476h2v1h-2zM654 476h1v1h-1zM745 476h1v1h-1zM849 476h4v1h-4zM945 476h2v1h-2zM981 476h13v1h-13zM10 477h1v1h-1zM275 477h1v1h-1zM401 477h1v1h-1zM509 477h1v1h-1zM655 477h1v1h-1zM744 477h1v1h-1zM947 477h1v1h-1zM979 477h2v1h-2zM994 477h2v1h-2zM11 478h1v1h-1zM274 478h1v1h-1zM401 478h1v1h-1zM508 478h1v1h-1zM656 478h2v1h-2zM743 478h1v1h-1zM948 478h1v1h-1zM977 478h2v1h-2zM996 478h2v1h-2zM12 479h1v1h-1zM274 479h1v1h-1zM402 479h1v1h-1zM507 479h1v1h-1zM658 479h1v1h-1zM743 479h1v1h-1zM949 479h2v1h-2zM975 479h2v1h-2zM998 479h2v1h-2zM13 480h1v1h-1zM273 480h1v1h-1zM403 480h1v1h-1zM505 480h2v1h-2zM659 480h1v1h-1zM742 480h1v1h-1zM951 480h2v1h-2zM972 480h3v1h-3zM1000 480h2v1h-2zM13 481h1v1h-1zM272 481h1v1h-1zM403 481h1v1h-1zM504 481h1v1h-1zM660 481h1v1h-1zM741 481h1v1h-1zM953 481h4v1h-4zM970 481h2v1h-2zM1002 481h1v1h-1zM14 482h1v1h-1zM271 482h1v1h-1zM404 482h1v1h-1zM503 482h1v1h-1zM661 482h1v1h-1zM741 482h1v1h-1zM957 482h13v1h-13zM1003 482h1v1h-1zM15 483h1v1h-1zM271 483h1v1h-1zM405 483h1v1h-1zM502 483h1v1h-1zM662 483h1v1h-1zM740 483h1v1h-1zM1004 483h1v1h-1zM16 484h1v1h-1zM270 484h1v1h-1zM405 484h1v1h-1zM501 484h1v1h-1zM663 484h2v1h-2zM739 484h1v1h-1zM1005 484h2v1h-2zM17 485h1v1h-1zM269 485h1v1h-1zM406 485h1v1h-1zM500 485h1v1h-1zM665 485h1v1h-1zM739 485h1v1h-1zM1007 485h1v1h-1zM18 486h1v1h-1zM268 486h1v1h-1zM407 486h1v1h-1zM499 486h1v1h-1zM666 486h1v1h-1zM738 486h1v1h-1zM1008 486h1v1h-1zM18 487h1v1h-1zM268 487h1v1h-1zM407 487h1v1h-1zM499 487h1v1h-1zM667 487h2v1h-2zM737 487h1v1h-1zM1009 487h2v1h-2zM19 488h1v1h-1zM267 488h1v1h-1zM408 488h1v1h-1zM498 488h1v1h-1zM669 488h1v1h-1zM736 488h1v1h-1zM1011 488h1v1h-1zM1033 488h2v1h-2zM20 489h1v1h-1zM266 489h1v1h-1zM409 489h1v1h-1zM497 489h1v1h-1zM670 489h2v1h-2zM736 489h1v1h-1zM1012 489h2v1h-2zM1031 489h2v1h-2zM21 490h1v1h-1zM265 490h1v1h-1zM409 490h1v1h-1zM496 490h1v1h-1zM672 490h2v1h-2zM735 490h1v1h-1zM1014 490h3v1h-3zM1029 490h2v1h-2zM22 491h1v1h-1zM264 491h1v1h-1zM410 491h1v1h-1zM495 491h1v1h-1zM674 491h2v1h-2zM734 491h1v1h-1zM1017 491h6v1h-6zM1027 491h2v1h-2zM23 492h1v1h-1zM263 492h1v1h-1zM411 492h1v1h-1zM494 492h1v1h-1zM676 492h2v1h-2zM733 492h1v1h-1zM1023 492h4v1h-4zM24 493h1v1h-1zM262 493h1v1h-1zM411 493h1v1h-1zM493 493h1v1h-1zM678 493h3v1h-3zM732 493h1v1h-1zM25 494h1v1h-1zM262 494h1v1h-1zM412 494h1v1h-1zM493 494h1v1h-1zM681 494h2v1h-2zM731 494h1v1h-1zM26 495h1v1h-1zM261 495h1v1h-1zM413 495h1v1h-1zM492 495h1v1h-1zM683 495h2v1h-2zM730 495h1v1h-1zM27 496h1v1h-1zM70 496h17v1h-17zM260 496h1v1h-1zM413 496h1v1h-1zM491 496h1v1h-1zM685 496h2v1h-2zM729 496h1v1h-1zM28 497h1v1h-1zM65 497h5v1h-5zM87 497h11v1h-11zM259 497h1v1h-1zM414 497h1v1h-1zM490 497h1v1h-1zM687 497h2v1h-2zM728 497h1v1h-1zM29 498h1v1h-1zM63 498h2v1h-2zM98 498h8v1h-8zM210 498h12v1h-12zM258 498h1v1h-1zM415 498h1v1h-1zM489 498h1v1h-1zM689 498h2v1h-2zM727 498h1v1h-1zM30 499h1v1h-1zM61 499h2v1h-2zM106 499h2v1h-2zM206 499h4v1h-4zM222 499h2v1h-2zM256 499h2v1h-2zM415 499h1v1h-1zM489 499h1v1h-1zM691 499h2v1h-2zM726 499h1v1h-1zM31 500h2v1h-2zM59 500h2v1h-2zM108 500h3v1h-3zM202 500h4v1h-4zM224 500h3v1h-3zM254 500h2v1h-2zM416 500h1v1h-1zM488 500h1v1h-1zM693 500h2v1h-2zM725 500h1v1h-1zM33 501h1v1h-1zM57 501h2v1h-2zM111 501h2v1h-2zM198 501h4v1h-4zM227 501h3v1h-3zM253 501h1v1h-1zM417 501h1v1h-1zM487 501h1v1h-1zM695 501h2v1h-2zM724 501h1v1h-1zM34 502h2v1h-2zM55 502h2v1h-2zM113 502h2v1h-2zM196 502h2v1h-2zM230 502h4v1h-4zM251 502h2v1h-2zM417 502h1v1h-1zM487 502h1v1h-1zM697 502h2v1h-2zM723 502h1v1h-1zM36 503h2v1h-2zM53 503h2v1h-2zM115 503h2v1h-2zM194 503h2v1h-2zM234 503h6v1h-6zM247 503h4v1h-4zM418 503h1v1h-1zM486 503h1v1h-1zM699 503h2v1h-2zM722 503h1v1h-1zM38 504h2v1h-2zM51 504h2v1h-2zM117 504h2v1h-2zM193 504h1v1h-1zM240 504h7v1h-7zM419 504h1v1h-1zM485 504h1v1h-1zM701 504h2v1h-2zM720 504h2v1h-2zM40 505h4v1h-4zM48 505h3v1h-3zM119 505h2v1h-2zM192 505h1v1h-1zM419 505h1v1h-1zM485 505h1v1h-1zM703 505h2v1h-2zM719 505h1v1h-1zM44 506h4v1h-4zM121 506h2v1h-2zM190 506h2v1h-2zM420 506h1v1h-1zM484 506h1v1h-1zM705 506h3v1h-3zM717 506h2v1h-2zM123 507h2v1h-2zM189 507h1v1h-1zM421 507h1v1h-1zM483 507h1v1h-1zM708 507h3v1h-3zM714 507h3v1h-3zM125 508h2v1h-2zM188 508h1v1h-1zM422 508h1v1h-1zM483 508h1v1h-1zM711 508h3v1h-3zM127 509h2v1h-2zM186 509h2v1h-2zM422 509h1v1h-1zM482 509h1v1h-1zM129 510h2v1h-2zM185 510h1v1h-1zM423 510h1v1h-1zM481 510h1v1h-1zM131 511h1v1h-1zM183 511h2v1h-2zM424 511h1v1h-1zM481 511h1v1h-1zM132 512h2v1h-2zM182 512h1v1h-1zM425 512h1v1h-1zM480 512h1v1h-1zM134 513h1v1h-1zM181 513h1v1h-1zM426 513h1v1h-1zM479 513h1v1h-1zM135 514h1v1h-1zM179 514h2v1h-2zM426 514h1v1h-1zM479 514h1v1h-1zM136 515h2v1h-2zM177 515h2v1h-2zM427 515h1v1h-1zM478 515h1v1h-1zM138 516h2v1h-2zM175 516h2v1h-2zM428 516h1v1h-1zM477 516h1v1h-1zM140 517h2v1h-2zM173 517h2v1h-2zM429 517h1v1h-1zM477 517h1v1h-1zM142 518h3v1h-3zM171 518h2v1h-2zM430 518h1v1h-1zM476 518h1v1h-1zM145 519h3v1h-3zM168 519h3v1h-3zM430 519h1v1h-1zM475 519h1v1h-1zM148 520h4v1h-4zM164 520h4v1h-4zM431 520h1v1h-1zM475 520h1v1h-1zM152 521h12v1h-12zM432 521h1v1h-1zM474 521h1v1h-1zM433 522h1v1h-1zM473 522h1v1h-1zM434 523h1v1h-1zM473 523h1v1h-1zM434 524h1v1h-1zM472 524h1v1h-1zM435 525h1v1h-1zM471 525h1v1h-1zM436 526h1v1h-1zM471 526h1v1h-1zM437 527h1v1h-1zM470 527h1v1h-1zM438 528h1v1h-1zM469 528h1v1h-1zM439 529h1v1h-1zM468 529h1v1h-1zM440 530h1v1h-1zM467 530h1v1h-1zM441 531h1v1h-1zM467 531h1v1h-1zM442 532h1v1h-1zM466 532h1v1h-1zM443 533h2v1h-2zM465 533h1v1h-1zM445 534h1v1h-1zM463 534h2v1h-2zM446 535h2v1h-2zM460 535h3v1h-3zM448 536h1v1h-1zM457 536h3v1h-3zM449 537h2v1h-2zM454 537h3v1h-3zM451 538h3v1h-3z"/>
<path fill="#000" d="M1 30h1305v1h-1305z M1 30h1v375h-1z M1305 30h1v375h-1z M1 404h1305v1h-1305z M1 406h1305v1h-1305z M1 406h1v145h-1z M1305 406h1v145h-1z M1 550h1306v1h-1306z"/>
<path fill="#000" d="M1306 38h2v1h-2zM1306 71h2v1h-2zM1306 104h2v1h-2zM1306 137h2v1h-2zM1306 170h2v1h-2zM1306 203h2v1h-2zM1306 236h2v1h-2zM1306 269h2v1h-2zM1306 302h2v1h-2zM1306 335h2v1h-2zM1306 368h2v1h-2zM1306 401h2v1h-2zM1306 408h1v1h-1z M1306 471h1v1h-1zM2 551h1v4h-1zM66 551h1v4h-1zM130 551h1v4h-1zM194 551h1v4h-1zM258 551h1v4h-1zM322 551h1v4h-1zM386 551h1v4h-1zM450 551h1v4h-1zM514 551h1v4h-1zM578 551h1v4h-1zM642 551h1v4h-1zM706 551h1v4h-1zM770 551h1v4h-1zM834 551h1v4h-1zM898 551h1v4h-1zM962 551h1v4h-1zM1026 551h1v4h-1z"/>
<path fill="#000" d="M5 41 L8.5 36.5 L12 41z" shape-rendering="geometricPrecision"/>
</svg>
<div class="ax" style="left:1311px;top:34px">1.15595</div>
<div class="ax" style="left:1311px;top:67px">1.15275</div>
<div class="ax" style="left:1311px;top:100px">1.14955</div>
<div class="ax" style="left:1311px;top:133px">1.14635</div>
<div class="ax" style="left:1311px;top:166px">1.14315</div>
<div class="ax" style="left:1311px;top:199px">1.14000</div>
<div class="ax" style="left:1311px;top:232px">1.13680</div>
<div class="ax" style="left:1311px;top:265px">1.13360</div>
<div class="ax" style="left:1311px;top:298px">1.13040</div>
<div class="ax" style="left:1311px;top:331px">1.12720</div>
<div class="ax" style="left:1311px;top:364px">1.12400</div>
<div class="ax" style="left:1311px;top:397px">1.12080</div>
<div class="curb"></div><div class="ax" style="left:1311px;top:254px;color:#fff">1.13471</div>
<div class="ax" style="left:1309px;top:409px">0.003847</div>
<div class="ax" style="left:1309px;top:467px">0.00</div>
<div class="ax" style="left:1309px;top:540px">-0.004856</div>
<div class="ax tm" style="left:1.5px;top:556px">18 Oct 2018</div>
<div class="ax tm" style="left:65.5px;top:556px">23 Oct 00:00</div>
<div class="ax tm" style="left:129.5px;top:556px">25 Oct 18:00</div>
<div class="ax tm" style="left:193.5px;top:556px">30 Oct 10:00</div>
<div class="ax tm" style="left:257.5px;top:556px">2 Nov 00:00</div>
<div class="ax tm" style="left:321.5px;top:556px">6 Nov 19:00</div>
<div class="ax tm" style="left:385.5px;top:556px">9 Nov 11:00</div>
<div class="ax tm" style="left:449.5px;top:556px">14 Nov 00:00</div>
<div class="ax tm" style="left:513.5px;top:556px">16 Nov 19:00</div>
<div class="ax tm" style="left:577.5px;top:556px">21 Nov 11:00</div>
<div class="ax tm" style="left:641.5px;top:556px">24 Nov 00:00</div>
<div class="ax tm" style="left:705.5px;top:556px">28 Nov 19:00</div>
<div class="ax tm" style="left:769.5px;top:556px">3 Dec 11:00</div>
<div class="ax tm" style="left:833.5px;top:556px">6 Dec 00:00</div>
<div class="ax tm" style="left:897.5px;top:556px">10 Dec 19:00</div>
<div class="ax tm" style="left:961.5px;top:556px">13 Dec 11:00</div>
<div class="ax tm" style="left:1025.5px;top:556px">18 Dec 00:00</div>
<div class="ax hd" style="left:17px;top:34px">EURUSD,H4&nbsp; 1.13451 1.13472 1.13444 1.13471</div>
<div class="ax hd" style="left:6px;top:411px">MACD(12,26,9) -0.000386 -0.001065</div>
<div class="pnbg"></div><div class="pn">
<div class="sell">SELL</div>
<div class="buy">BUY</div>
<div class="sl" style="left:4px;width:44px"></div>
<div class="sl" style="left:171px;width:44px"></div>
<div class="spin"><div class="sb"><i class="dn"></i></div><div class="sv">3.00</div><div class="sb r"><i class="up"></i></div></div>
<div class="pr" style="left:0;width:109px"><span class="sm" style="left:20px">1.13</span><span class="bg" style="left:47px">47</span><span class="sp" style="left:88px">1</span></div>
<div class="pr" style="left:111px;width:108px"><span class="sm" style="left:19px">1.13</span><span class="bg" style="left:46.5px">49</span><span class="sp" style="left:87px">0</span></div>
</div>
<div class="tabs">
<div class="tab act">EURUSD,H4</div>
<div class="tab" style="left:95.0px;width:92.0px">AUDUSD,H4</div>
<div class="tab" style="left:187.0px;width:89.0px">USDCHF,H1</div>
<div class="tab" style="left:276.0px;width:91.0px">USDCAD,H4</div>
<div class="tab" style="left:367.0px;width:89.5px">USDCNH,H4</div>
<div class="tab" style="left:456.5px;width:86.5px">USDJPY,H1</div>
<div class="tab" style="left:543.0px;width:92.0px">XAUUSD,H1</div>
<div class="tab" style="left:635.0px;width:116.0px">GBPUSD,Weekly</div>
<div class="tab" style="left:751.0px;width:76.0px">SP500,H1</div>
<div class="tsep" style="left:187px"></div>
<div class="tsep" style="left:276px"></div>
<div class="tsep" style="left:367px"></div>
<div class="tsep" style="left:456px"></div>
<div class="tsep" style="left:543px"></div>
<div class="tsep" style="left:635px"></div>
<div class="tsep" style="left:751px"></div>
<div class="tsep" style="left:827px"></div>
<div class="bl"></div>
<svg class="arr" width="30" height="10" viewBox="0 0 30 10"><path fill="#a0a0a0" d="M4.5 0v7l-4-3.5z M20.5 0v7l4-3.5z"/></svg>
</div>
<div class="tb">
<svg class="tbi" width="64" height="26" viewBox="0 0 64 26">
<g shape-rendering="crispEdges">
<path fill="#7a7a7a" d="M0 11h6v2h-6z M1 13h3v6h-3z"/>
<path fill="none" stroke="#8a8a8a" stroke-width="1" stroke-dasharray="1 1" d="M0 8.5h7 M6.5 8v13 M0 20.5h7"/>
</g>
<path fill="#4d4d4d" d="M25.8 8l3.4 2.4l-3.4 2.4l-3.4-2.4z M32.8 16l3.4 2.6l-3.4 2.6l-3.4-2.6z"/>
<path fill="none" stroke="#4d4d4d" stroke-width="1.4" d="M24.6 14.4l2.2 2.4l4.4-4.6"/>
<path fill="#000" d="M42.6 13h6l-3 3.4z"/>
<g shape-rendering="crispEdges">
<rect x="54" y="1" width="1" height="25" fill="#a0a0a0"/>
<rect x="55" y="1" width="1" height="25" fill="#fafafa"/>
<path fill="#b4b4b4" d="M58 4h3v1h-3z M58 6h3v1h-3z M58 8h3v1h-3z M58 10h3v1h-3z M58 12h3v1h-3z M58 14h3v1h-3z M58 16h3v1h-3z M58 18h3v1h-3z M58 20h3v1h-3z M58 22h3v1h-3z"/>
</g>
</svg>
<div class="h4b"></div>
<div class="tf" style="left:61.0px">M1</div>
<div class="tf" style="left:89.0px">M5</div>
<div class="tf" style="left:117.4px">M15</div>
<div class="tf" style="left:145.4px">M30</div>
<div class="tf" style="left:173.3px">H1</div>
<div class="tf" style="left:200.7px">H4</div>
<div class="tf" style="left:229.4px">D1</div>
<div class="tf" style="left:258.2px">W1</div>
<div class="tf" style="left:285.0px">MN</div>
<div class="sep" style="left:315px"></div><div class="sep w" style="left:316px"></div>
</div>
</body></html>
